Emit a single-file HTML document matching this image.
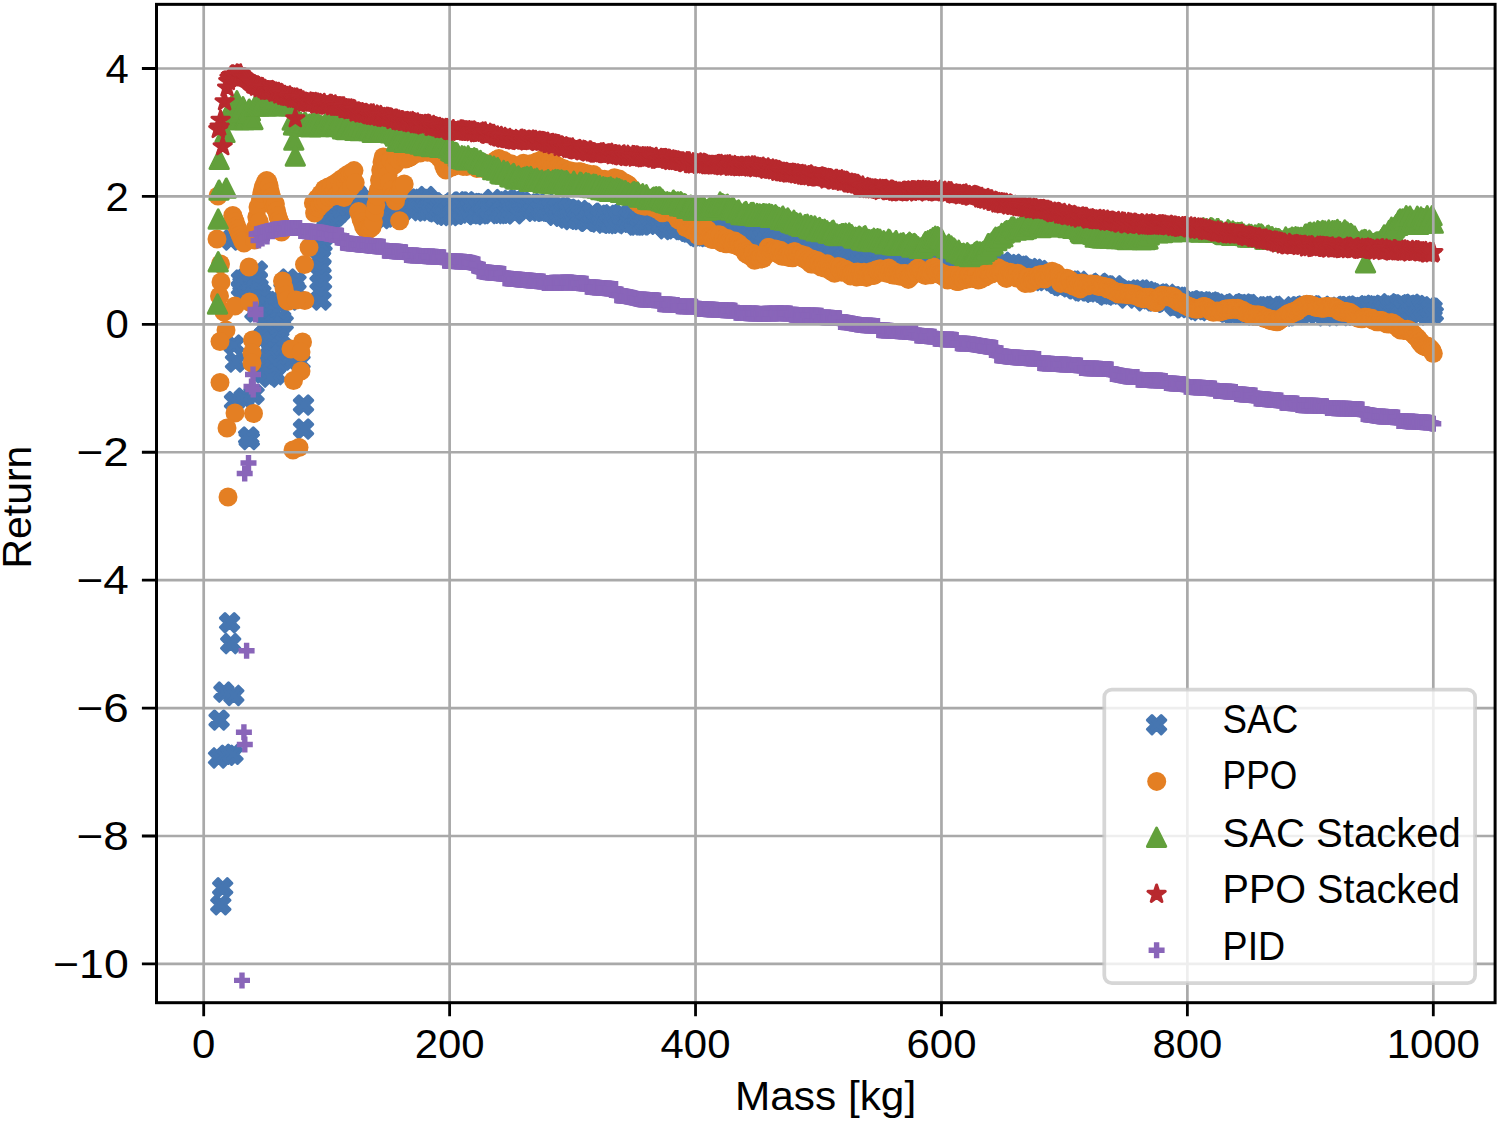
<!DOCTYPE html>
<html><head><meta charset="utf-8"><title>Return vs Mass</title>
<style>html,body{margin:0;padding:0;background:#fff}svg{display:block}text{font-family:"Liberation Sans",sans-serif;fill:#000}</style></head><body>
<svg width="1500" height="1121" viewBox="0 0 1500 1121">
<rect width="1500" height="1121" fill="#fff"/>
<defs>
<marker id="mb" markerUnits="userSpaceOnUse" markerWidth="30" markerHeight="30" refX="0" refY="0" viewBox="-15 -15 30 30" overflow="visible"><path d="M-4.60,-9.20L0.00,-4.60L4.60,-9.20L9.20,-4.60L4.60,0.00L9.20,4.60L4.60,9.20L0.00,4.60L-4.60,9.20L-9.20,4.60L-4.60,0.00L-9.20,-4.60Z" fill="#4676b1" stroke="#4676b1" stroke-width="3" stroke-linejoin="round"/></marker>
<marker id="mo" markerUnits="userSpaceOnUse" markerWidth="30" markerHeight="30" refX="0" refY="0" viewBox="-15 -15 30 30" overflow="visible"><circle r="9.5" fill="#e47f23"/></marker>
<marker id="mg" markerUnits="userSpaceOnUse" markerWidth="30" markerHeight="30" refX="0" refY="0" viewBox="-15 -15 30 30" overflow="visible"><path d="M0,-9.15L9.15,9.15L-9.15,9.15Z" fill="#62a03b" stroke="#62a03b" stroke-width="3" stroke-linejoin="round"/></marker>
<marker id="mr" markerUnits="userSpaceOnUse" markerWidth="30" markerHeight="30" refX="0" refY="0" viewBox="-15 -15 30 30" overflow="visible"><path d="M0.00,-9.10L2.04,-2.81L8.65,-2.81L3.31,1.07L5.35,7.36L0.00,3.48L-5.35,7.36L-3.31,1.07L-8.65,-2.81L-2.04,-2.81Z" fill="#b8292e" stroke="#b8292e" stroke-width="3" stroke-linejoin="round"/></marker>
<marker id="mp" markerUnits="userSpaceOnUse" markerWidth="30" markerHeight="30" refX="0" refY="0" viewBox="-15 -15 30 30" overflow="visible"><path d="M-2.7,-8.0H2.7V-2.7H8.0V2.7H2.7V8.0H-2.7V2.7H-8.0V-2.7H-2.7Z" fill="#8965b9"/></marker>
<clipPath id="ax"><rect x="156.5" y="4.35" width="1338.6" height="998.35"/></clipPath>
</defs>
<g clip-path="url(#ax)" fill="none" stroke="none">
<polyline points="218.6,757.9 219.1,720.0 220.8,904.8 222.7,887.8 223.9,692.1 227.0,755.2 229.6,622.7 230.7,643.6 232.9,754.3 233.8,695.4 234.5,401.5 234.0,345.0 235.5,362.0 244.0,398.0 254.0,394.5 248.7,437.0 249.3,439.5 303.5,405.0 303.5,429.0 231.0,240.0 300.0,362.0 292.0,360.0 241.5,280.0 241.5,288.0 243.0,284.0 245.0,279.0 246.0,290.0 248.0,285.0 250.0,277.0 251.0,292.0 253.0,283.0 255.0,296.0 257.3,271.0 257.1,279.0 258.0,287.0 260.8,293.0 260.5,300.0 255.0,312.0 263.8,300.1 277.1,301.6 264.3,304.6 266.9,306.2 271.8,310.8 271.3,312.4 271.6,313.9 266.2,315.6 280.7,318.7 269.6,322.7 283.2,322.9 273.0,326.2 266.8,328.1 269.5,331.7 265.2,334.6 264.7,334.9 260.8,339.1 278.9,338.9 271.7,342.2 273.5,344.4 282.0,346.4 278.7,348.9 274.6,351.8 271.6,354.4 270.8,355.4 262.8,360.5 265.5,361.0 265.4,364.3 275.8,365.9 266.5,368.1 262.4,369.7 262.7,372.7 275.8,374.6 269.7,377.1 284.0,290.0 286.0,284.0 288.0,279.0 290.0,286.0 292.0,295.0 294.0,288.0 296.0,282.0 295.0,292.0 290.0,300.0 319.5,250.0 320.5,258.0 321.0,266.0 320.0,274.0 321.5,282.0 320.0,291.0 321.0,300.0 322.0,244.0 324.0,236.0 327.0,228.0 330.0,221.0 333.0,214.0 336.0,208.0 339.0,204.0 342.0,202.0 345.0,200.0 336.0,216.0 340.0,212.0 346.3,192.5 347.6,205.1 348.8,193.5 350.0,193.4 351.3,204.0 352.5,194.6 353.7,193.6 354.9,205.3 356.2,193.3 357.4,204.5 358.6,197.1 359.9,202.3 361.1,199.3 362.3,200.7 363.5,211.3 364.8,211.9 366.0,201.2 367.2,211.1 368.5,202.7 369.7,206.3 370.9,203.7 372.2,214.0 373.4,216.3 374.6,217.6 375.8,218.1 377.1,211.6 378.3,207.7 379.5,204.5 380.8,211.0 382.0,218.5 383.2,210.3 384.5,212.5 385.7,216.9 386.9,215.6 388.1,213.2 389.4,210.4 390.6,204.2 391.8,212.1 393.1,206.4 394.3,210.5 395.5,202.4 396.7,213.6 398.0,200.8 399.2,210.5 400.4,211.8 401.7,199.7 402.9,210.7 404.1,206.9 405.4,205.9 406.6,200.0 407.8,200.8 409.0,199.0 411.5,202.2 412.7,205.4 414.0,206.6 415.2,206.3 416.4,201.0 417.7,200.9 418.9,207.4 420.1,210.6 421.3,199.4 422.6,202.3 423.8,200.3 425.0,210.9 426.3,196.6 427.5,209.8 428.7,207.9 429.9,201.5 431.2,207.0 432.4,202.6 433.6,207.0 434.9,204.1 436.1,211.7 437.3,205.2 438.6,210.8 439.8,207.6 441.0,204.8 442.2,214.1 443.5,202.8 444.7,213.8 445.9,215.2 447.2,213.5 448.4,210.3 449.6,210.7 450.8,215.4 452.1,207.9 453.3,213.7 454.5,212.9 455.8,214.1 457.0,207.7 458.2,210.8 459.5,202.3 460.7,202.0 461.9,202.4 463.1,211.8 464.4,206.0 465.6,214.2 466.8,201.7 468.1,203.1 469.3,212.9 470.5,206.6 471.8,203.6 473.0,211.9 474.2,203.6 475.4,214.6 476.7,204.1 477.9,212.8 479.1,207.0 480.4,213.8 481.6,204.1 482.8,213.5 484.0,204.1 485.3,206.2 486.5,209.0 487.7,207.8 489.0,209.6 490.2,209.9 491.4,203.5 492.7,199.6 493.9,210.4 495.1,208.5 496.3,208.0 497.6,206.9 498.8,213.4 500.0,204.0 501.3,213.2 502.5,202.0 503.7,209.9 505.0,213.6 506.2,201.8 507.4,211.1 508.6,203.6 509.9,200.4 511.1,206.0 512.3,210.0 513.6,203.8 514.8,213.8 516.0,199.5 517.2,203.5 518.5,204.6 519.7,205.1 520.9,204.9 522.2,201.9 523.4,203.9 524.6,204.5 525.9,208.8 527.1,205.7 528.3,209.4 529.5,206.4 530.8,205.3 532.0,203.4 533.2,204.1 534.5,211.3 535.7,206.5 536.9,205.0 538.2,204.0 539.4,211.0 540.6,209.3 541.8,209.5 543.1,210.9 544.3,205.3 545.5,210.7 546.8,204.0 548.0,210.6 549.2,207.3 550.4,211.2 551.7,206.8 552.9,208.5 554.1,212.1 555.4,215.2 556.6,209.2 557.8,207.7 559.1,207.5 560.3,213.5 561.5,216.2 562.7,207.2 564.0,210.9 565.2,209.4 566.4,218.0 567.7,209.6 568.9,209.2 570.1,216.9 571.4,219.5 572.6,217.2 573.8,210.4 575.0,213.7 576.3,215.0 577.5,219.2 578.7,217.8 580.0,210.6 581.2,214.9 582.4,218.5 583.6,216.2 584.9,217.6 586.1,221.0 587.3,221.2 588.6,219.9 589.8,217.2 591.0,214.6 592.3,213.2 593.5,213.4 594.7,218.6 595.9,220.1 597.2,221.2 598.4,221.9 599.6,215.5 600.9,216.1 602.1,214.8 603.3,218.6 604.5,223.1 605.8,221.2 607.0,218.0 608.2,215.2 609.5,222.6 610.7,223.2 611.9,221.9 613.2,216.9 614.4,217.9 615.6,220.0 616.8,223.6 618.1,216.5 619.3,218.4 620.5,214.6 621.8,214.0 623.0,216.6 624.2,222.6 625.5,221.2 626.7,219.2 627.9,218.5 629.1,217.0 630.4,222.3 631.6,219.4 632.8,215.0 634.1,220.9 635.3,224.9 636.5,215.1 637.7,225.0 639.0,215.5 640.2,217.7 641.4,224.8 642.7,224.8 643.9,216.5 645.1,222.2 646.4,221.1 647.6,218.9 648.8,223.0 650.0,221.4 651.3,217.4 652.5,220.5 653.7,223.1 655.0,222.4 656.2,221.9 657.4,224.2 658.7,218.1 659.9,217.5 661.1,217.6 662.3,224.2 663.6,222.5 664.8,227.0 666.0,228.7 667.3,219.9 668.5,223.0 669.7,223.7 670.9,225.4 672.2,229.5 673.4,226.5 674.6,223.7 675.9,227.8 677.1,224.5 678.3,227.2 679.6,222.6 680.8,227.9 682.0,227.3 683.2,229.4 684.5,228.8 685.7,229.2 686.9,231.2 688.2,225.2 689.4,232.0 690.6,231.0 691.9,232.0 693.1,229.2 694.3,226.2 695.5,235.4 696.8,234.7 698.0,236.5 699.2,231.4 700.5,236.0 701.7,235.7 702.9,232.2 704.1,235.7 705.4,234.7 706.6,227.0 707.8,227.1 709.1,229.9 710.3,231.1 711.5,232.2 712.8,231.1 714.0,234.2 715.2,233.3 716.4,225.7 717.7,228.1 718.9,233.7 720.1,232.2 721.4,224.2 722.6,230.5 723.8,225.1 725.1,229.2 726.3,234.7 727.5,225.2 728.7,233.4 730.0,230.0 731.2,235.5 732.4,234.5 733.7,226.3 734.9,232.6 736.1,235.2 737.3,229.3 738.6,234.0 739.8,229.5 741.0,229.2 742.3,230.8 743.5,230.6 744.7,237.9 746.0,230.5 747.2,232.7 748.4,233.6 749.6,236.0 750.9,239.2 752.1,235.7 753.3,238.5 754.6,231.0 755.8,236.9 757.0,231.9 758.2,239.6 759.5,236.9 760.7,232.4 761.9,240.5 763.2,237.5 764.4,237.6 765.6,233.8 766.9,243.1 768.1,239.4 769.3,243.6 770.5,235.7 771.8,242.6 773.0,239.9 774.2,242.1 775.5,243.5 776.7,246.1 777.9,247.7 779.2,240.1 780.4,247.9 781.6,240.3 782.8,239.4 784.1,242.7 785.3,242.8 786.5,248.2 787.8,246.2 789.0,244.6 790.2,249.1 791.4,250.9 792.7,248.0 793.9,248.4 795.1,250.9 796.4,245.1 797.6,252.8 798.8,244.3 800.1,243.2 801.3,251.7 802.5,245.1 803.7,247.0 805.0,249.1 806.2,245.1 807.4,248.7 808.7,248.2 809.9,245.6 811.1,251.3 812.4,250.0 813.6,247.1 814.8,254.0 816.0,250.3 817.3,246.4 818.5,255.7 819.7,251.0 821.0,247.9 822.2,250.2 823.4,250.1 824.6,248.1 825.9,251.4 827.1,249.9 828.3,250.6 829.6,255.8 830.8,250.5 832.0,249.3 833.3,251.2 834.5,252.7 835.7,251.6 836.9,256.4 838.2,259.7 839.4,259.4 840.6,255.8 841.9,259.3 843.1,259.5 844.3,258.0 845.6,259.9 846.8,255.6 848.0,259.7 849.2,257.5 850.5,259.9 851.7,260.1 852.9,253.1 854.2,261.4 855.4,253.1 856.6,257.4 857.8,259.3 859.1,262.0 860.3,254.0 861.5,260.7 862.8,257.4 864.0,254.3 865.2,257.6 866.5,261.0 867.7,255.3 868.9,263.5 870.1,255.2 871.4,257.4 872.6,258.5 873.8,255.9 875.1,265.2 876.3,265.8 877.5,265.3 878.8,258.0 880.0,264.9 881.2,259.8 882.4,259.4 883.7,263.8 884.9,257.6 886.1,256.9 887.4,266.9 888.6,260.9 889.8,265.8 891.0,262.0 892.3,258.7 893.5,262.9 894.7,259.8 896.0,259.0 897.2,258.5 898.4,262.7 899.7,261.4 900.9,262.3 902.1,269.1 903.3,267.8 904.6,266.6 905.8,261.9 907.0,267.4 908.3,266.9 909.5,265.2 910.7,262.3 911.9,262.1 913.2,264.5 914.4,263.1 915.6,269.6 916.9,265.3 918.1,267.7 919.3,270.1 920.6,267.3 921.8,262.6 923.0,264.4 924.2,270.9 925.5,261.7 926.7,263.7 927.9,268.0 929.2,270.7 930.4,270.4 931.6,269.6 932.9,269.4 934.1,266.1 935.3,262.9 936.5,269.1 937.8,263.2 939.0,271.1 940.2,264.1 941.5,262.9 942.7,273.3 943.9,264.4 945.1,268.8 946.4,263.3 947.6,273.0 948.8,262.7 950.1,269.8 951.3,271.5 952.5,265.7 953.8,262.6 955.0,262.9 956.2,263.1 957.4,270.4 958.7,268.0 959.9,271.9 961.1,269.1 962.4,268.7 963.6,264.5 964.8,264.7 966.1,272.7 967.3,272.4 968.5,266.9 969.7,270.7 971.0,269.9 972.2,265.2 973.4,264.3 974.7,270.1 975.9,272.4 977.1,272.6 978.3,265.9 979.6,262.8 980.8,265.5 982.0,262.8 983.3,272.5 984.5,265.3 985.7,271.0 987.0,264.6 988.2,272.2 989.4,267.2 990.6,270.8 991.9,268.3 993.1,270.0 994.3,262.7 995.6,262.8 996.8,265.7 998.0,271.1 999.3,271.5 1000.5,269.3 1001.7,268.1 1002.9,262.3 1004.2,271.6 1005.4,268.7 1006.6,268.2 1007.9,270.6 1009.1,264.5 1010.3,268.9 1011.5,269.8 1012.8,270.9 1014.0,264.2 1015.2,271.2 1016.5,273.4 1017.7,270.8 1018.9,266.2 1020.2,274.5 1021.4,266.1 1022.6,267.8 1023.8,274.7 1025.1,272.2 1026.3,269.8 1027.5,275.1 1028.8,273.8 1030.0,268.5 1031.2,270.0 1032.5,276.4 1033.7,276.8 1034.9,269.3 1036.1,274.4 1037.4,276.7 1038.6,272.9 1039.8,270.5 1041.1,274.6 1042.3,280.4 1043.5,278.5 1044.7,273.4 1046.0,280.4 1047.2,278.9 1048.4,275.2 1049.7,275.3 1050.9,274.6 1052.1,277.4 1053.4,277.2 1054.6,276.8 1055.8,283.3 1057.0,282.5 1058.3,280.0 1059.5,285.3 1060.7,282.5 1062.0,285.8 1063.2,284.7 1064.4,283.0 1065.6,284.0 1066.9,285.1 1068.1,285.3 1069.3,286.8 1070.6,281.4 1071.8,282.0 1073.0,281.1 1074.3,288.5 1075.5,288.7 1076.7,284.1 1077.9,283.9 1079.2,281.4 1080.4,290.6 1081.6,287.6 1082.9,290.9 1084.1,287.5 1085.3,286.5 1086.6,289.2 1087.8,290.8 1089.0,290.6 1090.2,285.5 1091.5,287.4 1092.7,292.2 1093.9,287.8 1095.2,291.1 1096.4,288.4 1097.6,291.8 1098.8,283.9 1100.1,283.4 1101.3,284.5 1102.5,288.4 1103.8,287.9 1105.0,294.3 1106.2,294.9 1107.5,286.0 1108.7,293.6 1109.9,290.3 1111.1,294.0 1112.4,289.2 1113.6,293.7 1114.8,285.8 1116.1,290.9 1117.3,289.6 1118.5,289.0 1119.8,289.7 1121.0,291.1 1122.2,292.1 1123.4,292.6 1124.7,295.1 1125.9,296.2 1127.1,297.9 1128.4,294.9 1129.6,290.8 1130.8,294.4 1132.0,293.1 1133.3,291.1 1134.5,292.4 1135.7,291.5 1137.0,294.9 1138.2,290.1 1139.4,295.4 1140.7,294.2 1141.9,290.1 1143.1,293.1 1144.3,300.7 1145.6,296.8 1146.8,291.5 1148.0,297.2 1149.3,298.7 1150.5,292.9 1151.7,295.9 1153.0,294.1 1154.2,297.8 1155.4,301.0 1156.6,295.0 1157.9,294.2 1159.1,294.4 1160.3,299.6 1161.6,294.0 1162.8,299.1 1164.0,302.3 1165.2,302.0 1166.5,301.2 1167.7,294.4 1168.9,299.1 1170.2,297.3 1171.4,300.4 1172.6,296.8 1173.9,296.9 1175.1,305.8 1176.3,305.3 1177.5,297.2 1178.8,305.2 1180.0,297.4 1181.2,300.5 1182.5,307.7 1183.7,307.4 1184.9,302.6 1186.2,305.4 1187.4,302.2 1188.6,307.4 1189.8,302.0 1191.1,301.1 1192.3,300.7 1193.5,306.1 1194.8,305.6 1196.0,309.5 1197.2,301.7 1198.4,308.9 1199.7,310.6 1200.9,308.7 1202.1,302.1 1203.4,302.6 1204.6,302.0 1205.8,304.7 1207.1,309.3 1208.3,302.9 1209.5,306.2 1210.7,302.0 1212.0,308.8 1213.2,302.7 1214.4,310.2 1215.7,308.4 1216.9,304.0 1218.1,309.5 1219.3,305.9 1220.6,307.8 1221.8,308.2 1223.0,305.3 1224.3,306.9 1225.5,310.9 1226.7,311.9 1228.0,311.8 1229.2,308.9 1230.4,312.2 1231.6,304.6 1232.9,313.6 1234.1,303.7 1235.3,312.9 1236.6,311.8 1237.8,307.7 1239.0,312.0 1240.3,313.9 1241.5,305.6 1242.7,310.8 1243.9,304.0 1245.2,311.1 1246.4,304.8 1247.6,311.4 1248.9,304.6 1250.1,308.7 1251.3,313.7 1252.5,307.9 1253.8,315.0 1255.0,309.8 1256.2,306.8 1257.5,314.9 1258.7,306.7 1259.9,311.5 1261.2,315.3 1262.4,315.3 1263.6,311.4 1264.8,307.8 1266.1,311.0 1267.3,308.8 1268.5,309.2 1269.8,309.3 1271.0,308.2 1272.2,306.5 1273.5,314.2 1274.7,306.4 1275.9,312.5 1277.1,310.4 1278.4,313.5 1279.6,312.8 1280.8,311.7 1282.1,314.8 1283.3,312.6 1284.5,316.0 1285.7,312.6 1287.0,315.6 1288.2,315.4 1289.4,313.7 1290.7,309.7 1291.9,311.3 1293.1,306.9 1294.4,313.7 1295.6,312.8 1296.8,314.5 1298.0,306.7 1299.3,307.1 1300.5,312.5 1301.7,313.5 1303.0,306.5 1304.2,306.0 1305.4,309.1 1306.7,309.3 1307.9,306.3 1309.1,306.7 1310.3,307.9 1311.6,305.8 1312.8,307.3 1314.0,306.0 1315.3,309.6 1316.5,313.6 1317.7,312.7 1318.9,312.1 1320.2,310.7 1321.4,307.7 1322.6,306.2 1323.9,307.7 1325.1,315.7 1326.3,314.3 1327.6,311.7 1328.8,312.2 1330.0,313.6 1331.2,314.4 1332.5,308.2 1333.7,314.1 1334.9,312.4 1336.2,308.4 1337.4,308.5 1338.6,307.2 1339.9,311.1 1341.1,315.5 1342.3,313.6 1343.5,306.9 1344.8,306.4 1346.0,308.0 1347.2,306.8 1348.5,306.5 1349.7,312.7 1350.9,308.2 1352.1,310.8 1353.4,308.1 1354.6,315.2 1355.8,310.9 1357.1,306.1 1358.3,312.8 1359.5,307.6 1360.8,309.3 1362.0,307.5 1363.2,309.6 1364.4,307.6 1365.7,307.7 1366.9,305.9 1368.1,314.4 1369.4,306.3 1370.6,307.1 1371.8,308.4 1373.0,305.2 1374.3,306.4 1375.5,308.2 1376.7,310.0 1378.0,309.5 1379.2,307.6 1380.4,310.9 1381.7,311.6 1382.9,306.5 1384.1,306.2 1385.3,310.3 1386.6,308.1 1387.8,312.5 1389.0,303.8 1390.3,309.4 1391.5,307.4 1392.7,306.0 1394.0,312.9 1395.2,306.0 1396.4,312.1 1397.6,312.8 1398.9,314.0 1400.1,304.9 1401.3,305.4 1402.6,304.7 1403.8,307.3 1405.0,313.5 1406.2,310.8 1407.5,305.7 1408.7,305.2 1409.9,312.1 1411.2,310.8 1412.4,304.3 1413.6,310.5 1414.9,306.4 1416.1,307.5 1417.3,305.5 1418.5,315.0 1419.8,309.4 1421.0,311.2 1422.2,306.8 1423.5,308.7 1424.7,311.6 1425.9,312.8 1427.2,314.5 1428.4,307.6 1429.6,307.5 1430.8,309.3 1432.1,308.4 1433.3,313.9" marker-start="url(#mb)" marker-mid="url(#mb)" marker-end="url(#mb)"/>
<polyline points="218.0,196.0 217.0,239.0 220.5,264.0 221.0,282.0 219.5,296.0 224.0,312.0 235.0,306.0 249.5,302.0 249.0,267.0 226.0,330.0 220.0,341.5 252.5,340.0 252.0,353.0 252.0,363.0 220.0,382.5 235.0,413.0 253.5,413.5 227.0,428.0 228.0,497.0 232.8,215.5 234.0,219.0 235.3,222.0 236.5,226.0 237.8,229.0 239.0,232.0 240.2,235.0 241.5,238.0 242.7,241.0 244.0,243.0 254.5,240.0 255.5,228.0 256.8,217.0 258.0,207.0 259.3,222.0 260.5,199.0 261.8,193.0 263.0,188.0 264.2,185.0 265.5,182.0 266.7,180.5 268.0,182.0 269.2,186.0 270.4,192.0 271.7,197.0 272.9,201.0 274.1,207.0 275.4,204.0 276.6,211.0 277.8,216.0 279.0,220.0 280.3,223.0 282.5,281.0 284.0,288.0 286.0,295.0 288.2,301.3 304.8,300.6 304.5,264.5 309.0,247.5 302.5,342.0 291.0,349.0 301.0,352.0 301.0,371.0 293.5,380.5 299.0,447.5 293.0,450.0 281.5,232.0 287.0,300.0 296.0,300.0 313.4,203.0 314.6,213.1 315.9,206.8 317.1,198.5 318.3,207.7 319.5,205.7 320.8,194.0 322.0,204.0 323.2,202.2 324.5,189.0 325.7,200.7 326.9,193.6 328.2,186.9 329.4,197.5 330.6,187.5 331.8,185.5 333.1,196.2 334.3,190.1 335.5,183.2 336.8,195.3 338.0,194.7 339.2,180.6 340.5,196.1 341.7,187.4 342.9,177.9 344.1,197.6 345.4,181.1 346.6,175.3 347.8,192.3 349.1,175.8 350.3,172.9 351.5,186.5 352.7,172.5 354.0,170.6 355.2,182.8 358.6,211.5 359.8,214.0 361.0,219.0 362.3,222.0 363.5,226.0 364.7,228.0 366.0,229.0 367.2,229.0 368.4,228.0 369.7,229.0 370.9,227.0 372.1,227.0 373.4,222.0 374.6,212.0 375.8,205.0 377.0,196.0 378.3,190.0 379.5,180.0 380.7,170.0 382.0,162.0 383.2,157.0 384.4,159.0 385.7,163.0 386.9,168.0 388.1,175.0 389.4,182.0 390.6,160.0 391.8,190.0 393.0,196.0 394.3,165.0 395.5,201.0 396.7,158.0 398.0,194.0 399.6,220.7 399.2,160.0 400.5,188.0 401.7,186.0 402.9,158.0 404.2,184.0 405.4,159.0 406.6,158.5 407.9,158.0 409.1,157.5 410.3,157.0 411.5,156.0 412.8,155.0 414.0,154.0 415.2,153.0 416.5,152.0 417.7,151.0 420.1,153.1 421.3,146.9 422.6,149.8 423.8,147.2 425.0,149.8 426.3,146.7 427.5,152.2 428.7,147.6 429.9,151.0 431.2,151.0 432.4,149.0 433.6,148.8 434.9,154.1 436.1,149.6 437.3,152.7 438.6,154.9 439.8,158.4 441.0,158.8 442.2,159.4 443.5,164.9 444.7,168.2 445.9,170.0 447.2,168.7 448.4,167.3 449.6,164.8 450.8,167.4 452.1,166.7 453.3,163.9 454.5,166.1 455.8,159.9 457.0,163.5 458.2,162.7 459.5,164.0 460.7,164.7 461.9,160.9 463.1,166.4 464.4,163.3 465.6,165.1 466.8,166.4 468.1,163.2 469.3,162.4 470.5,158.5 471.8,162.1 473.0,160.3 474.2,162.3 475.4,163.4 476.7,168.4 477.9,166.9 479.1,168.1 480.4,164.4 481.6,165.1 482.8,168.5 484.0,162.9 485.3,168.3 486.5,164.7 487.7,164.6 489.0,165.5 490.2,164.9 491.4,165.0 492.7,164.2 493.9,165.3 495.1,161.4 496.3,159.9 497.6,161.1 498.8,158.5 500.0,161.2 501.3,162.0 502.5,164.6 503.7,160.5 505.0,163.1 506.2,166.3 507.4,164.1 508.6,168.1 509.9,167.9 511.1,163.8 512.3,166.4 513.6,168.9 514.8,167.2 516.0,168.1 517.2,170.3 518.5,168.3 519.7,167.6 520.9,169.5 522.2,166.4 523.4,163.2 524.6,164.7 525.9,166.6 527.1,168.8 528.3,166.3 529.5,164.0 530.8,168.8 532.0,164.8 533.2,163.6 534.5,165.6 535.7,163.8 536.9,161.7 538.2,165.4 539.4,164.7 540.6,166.1 541.8,159.7 543.1,164.5 544.3,163.6 545.5,160.4 546.8,162.8 548.0,164.7 549.2,163.3 550.4,162.4 551.7,167.6 552.9,163.0 554.1,165.1 555.4,164.8 556.6,168.3 557.8,166.7 559.1,166.8 560.3,171.7 561.5,168.4 562.7,171.6 564.0,168.7 565.2,172.6 566.4,172.9 567.7,173.7 568.9,171.9 570.1,170.7 571.4,174.2 572.6,176.8 573.8,173.3 575.0,171.7 576.3,173.0 577.5,178.1 578.7,171.7 580.0,171.9 581.2,171.9 582.4,176.9 583.6,173.1 584.9,175.1 586.1,175.2 587.3,173.7 588.6,176.3 589.8,175.2 591.0,176.6 592.3,175.8 593.5,174.4 594.7,179.1 595.9,177.7 597.2,178.5 598.4,183.3 599.6,180.4 600.9,179.1 602.1,183.0 603.3,182.5 604.5,179.3 605.8,181.3 607.0,183.0 608.2,180.6 609.5,185.3 610.7,183.9 611.9,181.7 613.2,184.2 614.4,177.8 615.6,178.8 616.8,183.5 618.1,181.0 619.3,179.1 620.5,182.5 621.8,184.8 623.0,185.1 624.2,182.4 625.5,183.3 626.7,186.5 627.9,184.5 629.1,185.8 630.4,190.6 631.6,190.5 632.8,189.7 634.1,196.9 635.3,195.7 636.5,201.6 637.7,201.9 639.0,203.8 640.2,203.7 641.4,205.6 642.7,202.6 643.9,202.4 645.1,206.3 646.4,201.4 647.6,202.5 648.8,205.1 650.0,202.6 651.3,203.3 652.5,207.4 653.7,202.9 655.0,203.7 656.2,208.9 657.4,205.6 658.7,206.7 659.9,210.9 661.1,207.7 662.3,212.8 663.6,211.8 664.8,212.0 666.0,207.6 667.3,207.4 668.5,211.2 669.7,212.4 670.9,209.3 672.2,210.3 673.4,211.8 674.6,212.4 675.9,215.6 677.1,217.6 678.3,219.7 679.6,217.0 680.8,218.9 682.0,219.3 683.2,221.3 684.5,221.7 685.7,227.6 686.9,224.5 688.2,223.4 689.4,227.3 690.6,229.9 691.9,229.4 693.1,229.5 694.3,228.9 695.5,230.6 696.8,231.1 698.0,235.5 699.2,235.9 700.5,233.6 701.7,235.3 702.9,232.7 704.1,231.9 705.4,228.8 706.6,229.2 707.8,230.3 709.1,236.6 710.3,237.4 711.5,239.2 712.8,239.3 714.0,239.5 715.2,236.9 716.4,238.9 717.7,234.8 718.9,238.4 720.1,235.1 721.4,242.4 722.6,242.7 723.8,238.5 725.1,243.1 726.3,243.7 727.5,238.4 728.7,242.0 730.0,241.0 731.2,242.4 732.4,244.4 733.7,243.8 734.9,241.1 736.1,244.6 737.3,245.9 738.6,243.4 739.8,245.2 741.0,247.7 742.3,247.1 743.5,247.8 744.7,251.3 746.0,253.9 747.2,251.3 748.4,253.7 749.6,255.7 750.9,256.1 752.1,256.8 753.3,253.6 754.6,260.3 755.8,255.9 757.0,256.3 758.2,258.7 759.5,258.4 760.7,259.0 761.9,255.5 763.2,258.5 764.4,255.0 765.6,255.2 766.9,251.5 768.1,247.6 769.3,247.5 770.5,251.9 771.8,250.4 773.0,250.5 774.2,249.8 775.5,249.0 776.7,251.2 777.9,250.0 779.2,254.6 780.4,250.2 781.6,256.1 782.8,255.9 784.1,253.4 785.3,256.6 786.5,255.7 787.8,255.2 789.0,257.5 790.2,257.5 791.4,253.0 792.7,257.7 793.9,251.8 795.1,251.7 796.4,255.1 797.6,253.8 798.8,254.4 800.1,254.6 801.3,254.6 802.5,257.7 803.7,258.3 805.0,255.5 806.2,256.6 807.4,260.8 808.7,259.2 809.9,261.5 811.1,264.1 812.4,259.1 813.6,264.1 814.8,263.6 816.0,261.2 817.3,260.5 818.5,263.2 819.7,262.5 821.0,267.0 822.2,266.0 823.4,264.4 824.6,268.0 825.9,266.8 827.1,263.8 828.3,266.0 829.6,267.1 830.8,271.0 832.0,267.5 833.3,269.1 834.5,273.2 835.7,269.4 836.9,271.8 838.2,266.6 839.4,268.5 840.6,267.2 841.9,272.2 843.1,270.5 844.3,269.2 845.6,269.3 846.8,272.4 848.0,270.8 849.2,273.9 850.5,275.9 851.7,273.3 852.9,272.4 854.2,273.7 855.4,272.3 856.6,276.9 857.8,271.9 859.1,276.4 860.3,273.7 861.5,276.4 862.8,276.6 864.0,272.3 865.2,276.3 866.5,277.4 867.7,274.7 868.9,275.1 870.1,272.8 871.4,271.6 872.6,275.3 873.8,275.5 875.1,270.9 876.3,269.7 877.5,270.5 878.8,271.3 880.0,268.7 881.2,272.2 882.4,270.9 883.7,272.0 884.9,270.3 886.1,271.8 887.4,273.6 888.6,267.9 889.8,272.0 891.0,270.1 892.3,274.8 893.5,271.4 894.7,275.2 896.0,272.4 897.2,274.5 898.4,274.5 899.7,276.0 900.9,276.0 902.1,273.7 903.3,276.1 904.6,273.5 905.8,273.7 907.0,278.2 908.3,279.4 909.5,277.9 910.7,275.5 911.9,275.1 913.2,274.7 914.4,272.6 915.6,270.2 916.9,272.3 918.1,268.0 919.3,271.1 920.6,270.4 921.8,271.0 923.0,272.3 924.2,274.5 925.5,275.6 926.7,273.0 927.9,272.2 929.2,274.0 930.4,274.8 931.6,272.1 932.9,267.4 934.1,267.1 935.3,269.8 936.5,272.3 937.8,273.7 939.0,271.4 940.2,273.9 941.5,275.3 942.7,273.7 943.9,273.9 945.1,277.8 946.4,277.7 947.6,280.0 948.8,275.2 950.1,279.5 951.3,275.2 952.5,277.0 953.8,278.5 955.0,275.3 956.2,281.2 957.4,281.6 958.7,281.6 959.9,274.8 961.1,278.8 962.4,278.7 963.6,279.8 964.8,274.9 966.1,274.2 967.3,279.0 968.5,275.5 969.7,274.5 971.0,274.7 972.2,278.3 973.4,277.2 974.7,278.4 975.9,278.8 977.1,273.5 978.3,279.9 979.6,279.4 980.8,279.3 982.0,277.5 983.3,274.3 984.5,272.8 985.7,276.7 987.0,272.8 988.2,273.0 989.4,274.4 990.6,274.1 991.9,273.8 993.1,272.6 994.3,271.1 995.6,272.1 996.8,269.0 998.0,267.8 999.3,272.2 1000.5,272.4 1001.7,272.9 1002.9,270.5 1004.2,270.9 1005.4,277.7 1006.6,278.4 1007.9,274.1 1009.1,276.5 1010.3,272.3 1011.5,274.7 1012.8,276.4 1014.0,273.8 1015.2,276.9 1016.5,277.9 1017.7,273.2 1018.9,277.7 1020.2,276.4 1021.4,275.8 1022.6,277.9 1023.8,279.7 1025.1,283.4 1026.3,283.0 1027.5,277.4 1028.8,277.3 1030.0,283.2 1031.2,279.9 1032.5,279.9 1033.7,277.7 1034.9,280.4 1036.1,277.9 1037.4,277.6 1038.6,274.9 1039.8,278.2 1041.1,274.7 1042.3,274.4 1043.5,277.5 1044.7,279.0 1046.0,275.0 1047.2,274.5 1048.4,272.8 1049.7,275.2 1050.9,275.8 1052.1,271.2 1053.4,274.1 1054.6,274.8 1055.8,272.8 1057.0,276.7 1058.3,276.0 1059.5,276.8 1060.7,283.4 1062.0,278.2 1063.2,280.5 1064.4,282.6 1065.6,281.1 1066.9,278.2 1068.1,283.8 1069.3,279.5 1070.6,280.8 1071.8,284.7 1073.0,285.7 1074.3,286.2 1075.5,283.6 1076.7,286.6 1077.9,287.7 1079.2,283.5 1080.4,288.9 1081.6,283.0 1082.9,286.6 1084.1,283.6 1086.6,284.7 1087.8,285.7 1089.0,284.3 1090.2,284.3 1091.5,284.0 1092.7,284.4 1093.9,284.9 1095.2,284.5 1096.4,284.4 1097.6,285.7 1098.8,286.4 1100.1,285.7 1101.3,286.6 1102.5,286.3 1103.8,286.4 1105.0,287.3 1106.2,287.3 1107.5,288.7 1108.7,287.4 1109.9,289.1 1111.1,289.9 1112.4,290.2 1113.6,291.2 1114.8,291.5 1116.1,292.2 1117.3,292.2 1118.5,294.0 1119.8,292.5 1121.0,292.8 1122.2,294.1 1123.4,293.7 1124.7,294.0 1125.9,293.7 1127.1,293.5 1128.4,294.7 1129.6,293.5 1130.8,293.9 1132.0,294.8 1133.3,294.1 1134.5,295.5 1135.7,294.6 1137.0,295.9 1138.2,296.6 1139.4,297.1 1140.7,298.1 1141.9,297.2 1143.1,298.3 1144.3,298.8 1145.6,297.3 1146.8,298.0 1148.0,297.5 1149.3,297.3 1150.5,298.0 1151.7,299.3 1153.0,300.7 1154.2,302.1 1155.4,302.5 1156.6,302.6 1157.9,300.5 1159.1,298.3 1160.3,296.7 1161.6,295.4 1162.8,295.5 1164.0,295.4 1165.2,296.6 1166.5,296.7 1167.7,296.6 1168.9,296.1 1170.2,296.3 1171.4,296.3 1172.6,298.0 1173.9,297.2 1175.1,298.8 1176.3,300.3 1177.5,300.5 1178.8,302.4 1180.0,302.2 1181.2,302.6 1182.5,302.8 1183.7,303.9 1184.9,305.3 1186.2,305.5 1187.4,305.7 1188.6,307.0 1189.8,306.7 1191.1,307.8 1192.3,307.7 1193.5,308.1 1194.8,308.7 1196.0,309.0 1197.2,308.5 1198.4,309.1 1199.7,308.5 1200.9,307.9 1202.1,307.2 1203.4,306.6 1204.6,306.7 1205.8,307.0 1207.1,308.6 1208.3,308.8 1209.5,309.5 1210.7,311.0 1212.0,311.2 1213.2,312.3 1214.4,311.4 1215.7,311.8 1216.9,310.9 1218.1,311.3 1219.3,312.0 1220.6,311.0 1221.8,311.3 1223.0,310.8 1224.3,309.7 1225.5,309.1 1226.7,310.0 1228.0,308.7 1229.2,309.2 1230.4,308.7 1231.6,309.4 1232.9,308.3 1234.1,308.9 1235.3,309.0 1236.6,309.4 1237.8,308.3 1239.0,309.1 1240.3,309.7 1241.5,310.4 1242.7,310.3 1243.9,311.7 1245.2,312.5 1246.4,313.2 1247.6,312.9 1248.9,313.9 1250.1,314.1 1251.3,314.7 1252.5,314.9 1253.8,316.2 1255.0,314.7 1256.2,316.5 1257.5,314.9 1258.7,315.0 1259.9,315.3 1261.2,315.6 1262.4,317.0 1263.6,317.7 1264.8,318.6 1266.1,318.2 1267.3,318.1 1268.5,319.6 1269.8,320.4 1271.0,319.2 1272.2,320.7 1273.5,319.5 1274.7,321.3 1275.9,321.3 1277.1,321.8 1278.4,321.3 1279.6,319.2 1280.8,319.4 1282.1,318.2 1283.3,317.8 1284.5,316.2 1285.7,315.8 1287.0,315.0 1288.2,313.5 1289.4,313.8 1290.7,314.0 1291.9,312.0 1293.1,313.1 1294.4,311.8 1295.6,310.8 1296.8,311.5 1298.0,309.7 1299.3,308.7 1300.5,307.6 1301.7,307.9 1303.0,305.9 1304.2,305.5 1305.4,305.1 1306.7,304.3 1307.9,305.4 1309.1,304.5 1310.3,304.8 1311.6,305.7 1312.8,305.5 1314.0,305.9 1315.3,307.0 1316.5,307.5 1317.7,307.4 1318.9,307.4 1320.2,307.6 1321.4,308.2 1322.6,307.0 1323.9,308.3 1325.1,306.8 1326.3,306.8 1327.6,306.6 1328.8,307.1 1330.0,306.9 1331.2,307.3 1332.5,307.7 1333.7,306.8 1334.9,308.3 1336.2,308.2 1337.4,309.2 1338.6,309.5 1339.9,311.6 1341.1,311.3 1342.3,312.3 1343.5,311.2 1344.8,312.3 1346.0,311.4 1347.2,311.9 1348.5,312.7 1349.7,312.2 1350.9,313.5 1352.1,314.9 1353.4,314.7 1354.6,316.3 1355.8,316.9 1357.1,317.4 1358.3,318.3 1359.5,318.3 1360.8,318.6 1362.0,318.8 1363.2,318.3 1364.4,317.3 1365.7,317.3 1366.9,317.4 1368.1,317.9 1369.4,318.0 1370.6,318.2 1371.8,318.2 1373.0,320.2 1374.3,319.9 1375.5,320.6 1376.7,321.7 1378.0,320.5 1379.2,321.7 1380.4,320.5 1381.7,320.4 1382.9,321.5 1384.1,322.6 1385.3,322.5 1386.6,323.8 1387.8,323.2 1389.0,324.0 1390.3,322.7 1391.5,323.0 1392.7,323.0 1394.0,324.6 1395.2,325.0 1396.4,326.3 1397.6,326.6 1398.9,328.5 1400.1,329.9 1401.3,328.8 1402.6,329.4 1403.8,330.4 1405.0,330.2 1406.2,330.2 1407.5,329.2 1408.7,330.4 1409.9,330.4 1411.2,332.0 1412.4,333.4 1413.6,334.1 1414.9,335.7 1416.1,336.9 1417.3,337.8 1418.5,339.2 1419.8,342.1 1421.0,342.1 1422.2,345.0 1423.5,345.7 1424.7,346.5 1425.9,346.7 1427.2,345.9 1428.4,346.8 1429.6,348.2 1430.8,349.2 1432.1,350.6 1433.3,353.6" marker-start="url(#mo)" marker-mid="url(#mo)" marker-end="url(#mo)"/>
<polyline points="217.5,304.0 218.2,261.8 218.2,219.0 219.0,190.1 226.3,188.1 219.2,159.4 225.0,132.4 293.8,140.0 295.3,156.0 301.0,100.0 1365.5,262.8 229.5,111.0 230.8,107.8 232.0,105.2 233.2,119.7 234.4,108.9 235.7,105.7 236.9,100.8 238.1,118.9 239.4,119.6 240.6,119.0 241.8,112.1 243.0,106.8 244.3,119.6 245.5,118.8 246.7,119.2 248.0,112.5 249.2,109.1 250.4,110.8 251.7,118.8 252.9,119.5 255.3,105.5 256.6,105.7 257.8,104.8 259.0,105.8 260.3,105.2 261.5,105.8 262.7,105.4 264.0,105.4 265.2,105.7 266.4,105.5 267.6,105.5 268.9,104.9 270.1,105.4 271.3,105.1 272.6,104.8 273.8,104.9 275.0,105.3 276.2,105.0 277.5,105.6 278.7,104.8 279.9,104.7 281.2,105.9 282.4,105.1 283.6,105.3 284.9,105.0 286.1,105.0 287.3,105.2 288.5,105.6 289.8,104.7 291.0,105.7 292.2,120.1 293.5,124.8 294.7,124.6 295.9,124.5 297.1,124.4 298.4,124.6 299.6,125.3 300.8,122.3 302.1,126.4 303.3,125.8 304.5,122.5 305.8,122.7 307.0,126.2 308.2,125.9 309.4,124.1 310.7,126.9 311.9,123.6 313.1,124.7 314.4,123.1 315.6,125.9 316.8,123.0 318.1,123.5 319.3,126.6 320.5,125.2 321.7,126.1 323.0,126.4 324.2,125.8 325.4,123.7 326.7,126.3 327.9,123.3 329.1,124.1 330.3,125.1 331.6,123.3 332.8,123.3 334.0,126.2 335.3,126.7 336.5,125.0 337.7,125.2 339.0,124.5 340.2,126.3 341.4,126.8 342.6,128.8 343.9,124.3 345.1,129.0 346.3,129.7 347.6,126.5 348.8,128.6 350.0,129.3 351.3,128.6 352.5,126.9 353.7,128.8 354.9,130.4 356.2,126.5 357.4,128.5 358.6,126.2 359.9,130.6 361.1,130.4 362.3,126.7 363.5,130.4 364.8,130.2 366.0,127.4 367.2,129.6 368.5,130.5 369.7,128.8 370.9,129.8 372.2,132.3 373.4,130.7 374.6,130.1 375.8,127.9 377.1,128.3 378.3,132.2 379.5,131.8 380.8,132.4 382.0,131.1 383.2,131.2 384.5,131.1 385.7,132.3 386.9,130.3 388.1,131.2 389.4,131.2 390.6,132.9 391.8,132.0 393.1,132.4 394.3,134.2 395.5,136.0 396.7,141.0 398.0,140.7 399.2,141.0 400.4,139.6 401.7,138.0 402.9,140.1 404.1,142.3 405.4,140.6 406.6,141.5 407.8,140.3 409.0,139.3 410.3,142.0 411.5,141.4 412.7,140.8 414.0,140.6 415.2,143.0 416.4,141.2 417.7,142.7 418.9,141.3 420.1,144.0 421.3,142.2 422.6,142.9 423.8,145.5 425.0,144.5 426.3,144.8 427.5,142.8 428.7,145.5 429.9,143.3 431.2,146.5 432.4,146.2 433.6,145.1 434.9,146.1 436.1,144.7 437.3,145.8 438.6,142.8 439.8,147.4 441.0,146.5 442.2,143.2 443.5,143.9 444.7,145.7 445.9,146.8 447.2,143.7 448.4,148.1 449.6,145.2 450.8,150.5 452.1,151.1 453.3,151.7 454.5,153.0 455.8,152.5 457.0,152.9 458.2,156.1 459.5,157.2 460.7,158.3 461.9,155.8 463.1,159.2 464.4,156.3 465.6,159.8 466.8,159.7 468.1,155.7 469.3,159.4 470.5,158.6 471.8,158.6 473.0,159.3 474.2,157.8 475.4,158.6 476.7,158.8 477.9,162.2 479.1,163.3 480.4,160.4 481.6,164.4 482.8,162.7 484.0,163.2 485.3,164.0 486.5,166.4 487.7,165.3 489.0,165.6 490.2,165.3 491.4,166.9 492.7,169.7 493.9,166.2 495.1,169.0 496.3,170.1 497.6,167.6 498.8,169.4 500.0,173.0 501.3,173.9 502.5,173.6 503.7,170.5 505.0,174.0 506.2,172.8 507.4,171.8 508.6,173.8 509.9,176.6 511.1,176.8 512.3,174.7 513.6,173.4 514.8,178.2 516.0,179.1 517.2,177.1 518.5,176.0 519.7,178.1 520.9,179.1 522.2,178.1 523.4,177.6 524.6,177.2 525.9,177.5 527.1,176.4 528.3,177.6 529.5,181.3 530.8,176.5 532.0,180.4 533.2,180.8 534.5,179.0 535.7,180.1 536.9,178.2 538.2,180.7 539.4,181.0 540.6,181.3 541.8,180.1 543.1,182.8 544.3,182.3 545.5,180.9 546.8,181.6 548.0,179.6 549.2,183.2 550.4,181.8 551.7,183.2 552.9,180.2 554.1,183.9 555.4,179.5 556.6,181.8 557.8,179.8 559.1,180.3 560.3,183.4 561.5,179.9 562.7,181.7 564.0,180.9 565.2,184.5 566.4,180.6 567.7,182.1 568.9,185.0 570.1,184.2 571.4,184.5 572.6,186.1 573.8,181.2 575.0,184.7 576.3,185.3 577.5,185.5 578.7,185.5 580.0,182.3 581.2,182.5 582.4,186.2 583.6,185.5 584.9,183.9 586.1,182.7 587.3,185.6 588.6,183.4 589.8,187.0 591.0,185.0 592.3,187.6 593.5,184.1 594.7,186.3 595.9,184.4 597.2,188.1 598.4,187.1 599.6,185.6 600.9,189.6 602.1,188.4 603.3,186.8 604.5,189.8 605.8,187.5 607.0,190.7 608.2,187.6 609.5,191.4 610.7,186.9 611.9,190.6 613.2,188.5 614.4,189.5 615.6,190.8 616.8,188.0 618.1,189.2 619.3,188.8 620.5,192.4 621.8,189.9 623.0,191.6 624.2,191.0 625.5,190.7 626.7,194.6 627.9,192.6 629.1,193.6 630.4,194.1 631.6,195.0 632.8,192.3 634.1,191.6 635.3,193.9 636.5,192.6 637.7,192.1 639.0,197.0 640.2,195.7 641.4,194.9 642.7,193.7 643.9,197.2 645.1,196.3 646.4,194.7 647.6,199.2 648.8,199.3 650.0,199.5 651.3,199.2 652.5,198.0 653.7,197.1 655.0,199.2 656.2,196.8 657.4,199.5 658.7,196.9 659.9,196.9 661.1,200.9 662.3,199.2 663.6,201.3 664.8,202.0 666.0,202.6 667.3,201.7 668.5,203.2 669.7,202.5 670.9,204.2 672.2,204.3 673.4,200.1 674.6,201.6 675.9,202.5 677.1,202.1 678.3,201.9 679.6,205.8 680.8,201.8 682.0,202.9 683.2,206.3 684.5,203.8 685.7,204.3 686.9,208.4 688.2,207.7 689.4,206.4 690.6,205.1 691.9,206.1 693.1,210.2 694.3,209.5 695.5,206.1 696.8,209.6 698.0,207.8 699.2,209.5 700.5,207.3 701.7,206.4 702.9,205.8 704.1,207.2 705.4,210.1 706.6,210.2 707.8,209.1 709.1,209.4 710.3,206.5 711.5,207.3 712.8,209.6 714.0,209.3 715.2,205.7 716.4,206.7 717.7,206.7 718.9,206.3 720.1,202.0 721.4,204.5 722.6,203.7 723.8,204.7 725.1,205.3 726.3,205.0 727.5,204.3 728.7,208.7 730.0,208.8 731.2,210.1 732.4,207.0 733.7,208.0 734.9,210.4 736.1,212.7 737.3,210.7 738.6,209.9 739.8,212.4 741.0,214.5 742.3,214.2 743.5,214.5 744.7,212.1 746.0,211.5 747.2,214.9 748.4,214.6 749.6,215.1 750.9,212.8 752.1,212.5 753.3,212.4 754.6,215.8 755.8,216.2 757.0,213.5 758.2,216.3 759.5,213.9 760.7,214.4 761.9,215.2 763.2,213.6 764.4,214.0 765.6,214.1 766.9,214.2 768.1,215.7 769.3,213.7 770.5,217.4 771.8,214.4 773.0,216.0 774.2,217.2 775.5,214.7 776.7,216.3 777.9,217.3 779.2,217.4 780.4,219.4 781.6,219.2 782.8,216.1 784.1,220.2 785.3,219.2 786.5,220.2 787.8,217.9 789.0,219.9 790.2,221.5 791.4,222.4 792.7,222.8 793.9,220.2 795.1,223.8 796.4,222.8 797.6,223.7 798.8,225.1 800.1,223.1 801.3,226.2 802.5,226.4 803.7,226.4 805.0,224.6 806.2,225.7 807.4,224.3 808.7,227.7 809.9,228.8 811.1,225.4 812.4,228.8 813.6,229.0 814.8,225.9 816.0,230.9 817.3,229.0 818.5,228.3 819.7,227.5 821.0,231.6 822.2,229.6 823.4,230.7 824.6,229.3 825.9,231.7 827.1,230.8 828.3,233.2 829.6,232.7 830.8,233.2 832.0,231.0 833.3,230.2 834.5,234.7 835.7,235.2 836.9,233.9 838.2,235.6 839.4,234.7 840.6,234.4 841.9,233.7 843.1,233.6 844.3,234.5 845.6,233.3 846.8,234.6 848.0,235.3 849.2,233.0 850.5,235.2 851.7,234.8 852.9,236.9 854.2,238.0 855.4,237.2 856.6,237.7 857.8,237.7 859.1,236.1 860.3,236.9 861.5,239.5 862.8,240.2 864.0,236.4 865.2,235.7 866.5,240.9 867.7,240.5 868.9,239.4 870.1,240.7 871.4,239.7 872.6,241.5 873.8,238.2 875.1,239.5 876.3,240.8 877.5,238.6 878.8,241.4 880.0,239.3 881.2,241.8 882.4,242.4 883.7,240.7 884.9,243.8 886.1,242.1 887.4,242.9 888.6,239.3 889.8,240.0 891.0,243.3 892.3,244.6 893.5,243.2 894.7,244.9 896.0,240.6 897.2,245.1 898.4,245.2 899.7,244.1 900.9,243.3 902.1,244.9 903.3,242.7 904.6,245.1 905.8,245.4 907.0,244.8 908.3,243.5 909.5,242.3 910.7,243.5 911.9,247.0 913.2,244.0 914.4,243.4 915.6,244.5 916.9,246.1 918.1,246.7 919.3,248.4 920.6,248.0 921.8,248.0 923.0,246.8 924.2,243.9 925.5,241.6 926.7,245.2 927.9,240.7 929.2,242.1 930.4,239.5 931.6,241.6 932.9,237.7 934.1,238.0 935.3,236.2 936.5,238.8 937.8,236.8 939.0,238.0 940.2,238.0 941.5,238.9 942.7,244.1 943.9,245.3 945.1,245.7 946.4,247.6 947.6,245.8 948.8,244.3 950.1,247.1 951.3,246.0 952.5,247.8 953.8,248.1 955.0,249.2 956.2,251.6 957.4,251.6 958.7,250.2 959.9,252.9 961.1,253.7 962.4,253.8 963.6,253.2 964.8,255.6 966.1,254.1 967.3,252.7 968.5,254.1 969.7,256.7 971.0,255.0 972.2,254.9 973.4,254.3 974.7,252.8 975.9,251.9 977.1,251.3 978.3,254.1 979.6,251.9 980.8,252.2 982.0,254.2 983.3,251.4 984.5,251.1 985.7,249.6 987.0,249.4 988.2,243.6 989.4,244.0 990.6,245.8 991.9,242.3 993.1,243.8 994.3,238.9 995.6,237.3 996.8,240.6 998.0,237.1 999.3,236.6 1000.5,238.0 1001.7,233.5 1002.9,236.7 1004.2,233.0 1005.4,231.4 1006.6,230.6 1007.9,231.4 1009.1,230.4 1010.3,231.9 1011.5,227.3 1012.8,227.0 1014.0,227.3 1015.2,229.4 1016.5,230.0 1017.7,228.2 1018.9,228.6 1020.2,228.5 1021.4,224.9 1022.6,225.8 1023.8,229.5 1025.1,225.7 1026.3,228.7 1027.5,226.0 1028.8,224.3 1030.0,222.9 1031.2,224.0 1032.5,224.5 1033.7,225.0 1034.9,225.0 1036.1,225.5 1037.4,225.1 1038.6,222.8 1039.8,223.9 1041.1,227.5 1042.3,222.6 1043.5,226.2 1044.7,224.8 1046.0,226.0 1047.2,224.0 1048.4,224.1 1049.7,224.9 1050.9,226.9 1052.1,223.8 1053.4,222.5 1054.6,222.2 1055.8,226.5 1057.0,223.5 1058.3,222.5 1059.5,224.9 1060.7,226.3 1062.0,225.1 1063.2,222.9 1064.4,224.4 1065.6,223.8 1066.9,222.6 1068.1,227.7 1069.3,225.2 1070.6,223.6 1071.8,227.7 1073.0,228.3 1074.3,227.6 1075.5,225.1 1076.7,225.6 1077.9,228.2 1079.2,229.4 1080.4,231.8 1081.6,233.2 1082.9,233.5 1084.1,231.0 1085.3,232.8 1086.6,230.8 1087.8,233.4 1089.0,231.5 1090.2,232.2 1091.5,232.8 1092.7,234.2 1093.9,234.7 1095.2,237.2 1096.4,234.3 1097.6,234.5 1098.8,237.4 1100.1,237.5 1101.3,237.7 1102.5,237.8 1103.8,237.5 1105.0,236.9 1106.2,237.9 1107.5,234.5 1108.7,235.2 1109.9,238.0 1111.1,235.2 1112.4,236.9 1113.6,235.6 1114.8,236.5 1116.1,238.6 1117.3,237.7 1118.5,236.6 1119.8,235.7 1121.0,238.5 1122.2,237.8 1123.4,236.7 1124.7,238.9 1125.9,238.0 1127.1,239.5 1128.4,237.9 1129.6,239.2 1130.8,237.4 1132.0,238.2 1133.3,238.9 1134.5,235.0 1135.7,237.1 1137.0,237.8 1138.2,234.9 1139.4,238.8 1140.7,238.4 1141.9,239.6 1143.1,236.7 1144.3,237.2 1145.6,239.5 1146.8,236.9 1148.0,239.1 1149.3,234.8 1150.5,232.3 1151.7,229.9 1153.0,229.1 1154.2,230.2 1155.4,228.7 1156.6,232.2 1157.9,232.9 1159.1,228.3 1160.3,228.0 1161.6,227.7 1162.8,232.5 1164.0,228.0 1165.2,231.1 1166.5,229.1 1167.7,228.5 1168.9,228.7 1170.2,231.0 1171.4,227.4 1172.6,231.8 1173.9,230.2 1175.1,228.5 1176.3,228.3 1177.5,230.6 1178.8,230.4 1180.0,228.7 1181.2,228.8 1182.5,229.4 1183.7,231.7 1184.9,229.7 1186.2,231.2 1187.4,230.2 1188.6,229.7 1189.8,229.4 1191.1,230.4 1192.3,229.5 1193.5,230.7 1194.8,227.9 1196.0,228.7 1197.2,231.6 1198.4,229.1 1199.7,231.5 1200.9,232.0 1202.1,230.2 1203.4,227.7 1204.6,231.2 1205.8,230.7 1207.1,228.8 1208.3,231.8 1209.5,229.9 1210.7,227.8 1212.0,228.0 1213.2,229.0 1214.4,231.2 1215.7,232.4 1216.9,228.8 1218.1,228.6 1219.3,231.9 1220.6,230.9 1221.8,231.3 1223.0,233.4 1224.3,234.1 1225.5,234.5 1226.7,233.7 1228.0,229.8 1229.2,230.7 1230.4,233.2 1231.6,235.3 1232.9,230.9 1234.1,233.3 1235.3,232.8 1236.6,233.1 1237.8,232.5 1239.0,232.7 1240.3,232.7 1241.5,232.1 1242.7,234.6 1243.9,234.1 1245.2,235.6 1246.4,235.4 1247.6,237.1 1248.9,234.1 1250.1,237.0 1251.3,234.5 1252.5,236.1 1253.8,237.0 1255.0,235.0 1256.2,235.3 1257.5,236.4 1258.7,233.8 1259.9,236.2 1261.2,234.0 1262.4,234.9 1263.6,237.1 1264.8,239.0 1266.1,239.3 1267.3,235.6 1268.5,235.2 1269.8,237.3 1271.0,237.0 1272.2,236.8 1273.5,239.0 1274.7,238.9 1275.9,238.2 1277.1,238.7 1278.4,238.6 1279.6,239.3 1280.8,240.7 1282.1,241.0 1283.3,241.3 1284.5,240.8 1285.7,237.0 1287.0,239.0 1288.2,240.8 1289.4,238.5 1290.7,240.1 1291.9,237.1 1293.1,237.7 1294.4,238.5 1295.6,236.7 1296.8,238.4 1298.0,237.2 1299.3,240.3 1300.5,237.4 1301.7,237.5 1303.0,239.6 1304.2,237.6 1305.4,234.1 1306.7,234.2 1307.9,235.5 1309.1,232.6 1310.3,232.3 1311.6,234.1 1312.8,233.4 1314.0,232.1 1315.3,233.5 1316.5,233.8 1317.7,230.7 1318.9,231.8 1320.2,231.9 1321.4,234.8 1322.6,230.4 1323.9,231.8 1325.1,231.0 1326.3,233.5 1327.6,234.0 1328.8,230.0 1330.0,234.1 1331.2,233.1 1332.5,230.6 1333.7,234.1 1334.9,230.8 1336.2,233.3 1337.4,229.5 1338.6,231.4 1339.9,231.5 1341.1,233.7 1342.3,233.6 1343.5,232.3 1344.8,229.9 1346.0,232.0 1347.2,231.9 1348.5,235.3 1349.7,233.9 1350.9,233.5 1352.1,234.7 1353.4,238.2 1354.6,236.1 1355.8,241.2 1357.1,241.8 1358.3,241.7 1359.5,243.1 1360.8,241.4 1362.0,240.1 1363.2,241.4 1364.4,239.5 1365.7,239.7 1366.9,241.5 1368.1,243.5 1369.4,240.2 1370.6,241.7 1371.8,244.2 1373.0,243.4 1374.3,243.7 1375.5,242.5 1376.7,242.0 1378.0,242.0 1379.2,242.0 1380.4,240.9 1381.7,239.1 1382.9,237.2 1384.1,235.0 1385.3,235.3 1386.6,236.1 1387.8,233.7 1389.0,230.5 1390.3,232.6 1391.5,227.3 1392.7,230.6 1394.0,228.0 1395.2,226.3 1396.4,224.4 1397.6,225.4 1398.9,220.1 1400.1,219.0 1401.3,220.4 1402.6,218.9 1403.8,219.4 1405.0,220.2 1406.2,215.7 1407.5,224.3 1408.7,221.4 1409.9,216.1 1411.2,222.0 1412.4,220.1 1413.6,221.5 1414.9,222.0 1416.1,224.3 1417.3,216.3 1418.5,224.4 1419.8,219.6 1421.0,217.0 1422.2,218.6 1423.5,218.6 1424.7,223.4 1425.9,220.0 1427.2,215.8 1428.4,221.8 1429.6,219.8 1430.8,222.7 1432.1,215.6 1433.3,223.2" marker-start="url(#mg)" marker-mid="url(#mg)" marker-end="url(#mg)"/>
<polyline points="218.3,129.3 219.6,126.8 220.6,120.0 222.7,146.5 224.6,101.6 227.1,87.8 228.3,81.3 229.5,78.0 230.8,76.0 232.0,75.0 295.3,118.5 233.2,74.9 234.4,75.7 235.7,75.4 236.9,74.0 238.1,74.2 239.4,75.8 240.6,73.9 241.8,76.9 243.0,77.6 244.3,77.6 245.5,78.0 246.7,78.7 248.0,79.5 249.2,80.8 250.4,81.7 251.7,82.7 252.9,84.6 254.1,84.9 255.3,85.3 256.6,87.0 257.8,85.8 259.0,86.5 260.3,88.4 261.5,87.3 262.7,87.6 264.0,89.2 265.2,89.4 266.4,91.0 267.6,90.6 268.9,90.7 270.1,91.0 271.3,90.7 272.6,90.5 273.8,91.3 275.0,93.0 276.2,92.0 277.5,92.8 278.7,92.3 279.9,94.8 281.2,93.4 282.4,94.0 283.6,96.0 284.9,95.4 286.1,96.6 287.3,96.5 288.5,97.1 289.8,95.8 291.0,97.3 292.2,97.6 293.5,99.0 294.7,98.0 295.9,99.0 297.1,98.0 298.4,99.3 299.6,99.5 300.8,99.4 302.1,101.5 303.3,100.8 304.5,102.7 305.8,102.1 307.0,102.6 308.2,103.0 309.4,103.2 310.7,102.0 311.9,102.9 313.1,102.5 314.4,103.1 315.6,102.4 316.8,104.8 318.1,103.0 319.3,104.3 320.5,103.5 321.7,105.1 323.0,104.7 324.2,103.4 325.4,105.4 326.7,105.8 327.9,105.9 329.1,105.1 330.3,104.2 331.6,104.4 332.8,106.5 334.0,105.6 335.3,104.8 336.5,107.0 337.7,106.7 339.0,106.9 340.2,106.7 341.4,107.1 342.6,107.0 343.9,106.8 345.1,109.4 346.3,108.6 347.6,109.2 348.8,108.9 350.0,110.4 351.3,108.9 352.5,110.1 353.7,109.5 354.9,110.1 356.2,112.7 357.4,112.2 358.6,111.9 359.9,112.5 361.1,113.7 362.3,112.6 363.5,113.5 364.8,114.0 366.0,113.3 367.2,114.0 368.5,114.9 369.7,115.5 370.9,113.8 372.2,116.1 373.4,113.9 374.6,116.1 375.8,116.5 377.1,115.0 378.3,116.0 379.5,117.3 380.8,115.5 382.0,117.3 383.2,118.0 384.5,117.5 385.7,118.3 386.9,117.2 388.1,117.4 389.4,118.0 390.6,117.8 391.8,118.4 393.1,120.2 394.3,119.5 395.5,119.1 396.7,119.1 398.0,121.1 399.2,120.0 400.4,121.6 401.7,120.6 402.9,120.9 404.1,122.1 405.4,121.9 406.6,121.7 407.8,121.5 409.0,122.9 410.3,121.9 411.5,123.5 412.7,121.5 414.0,122.6 415.2,123.1 416.4,124.4 417.7,122.8 418.9,124.5 420.1,124.4 421.3,124.7 422.6,124.7 423.8,125.8 425.0,124.3 426.3,124.7 427.5,124.4 428.7,124.2 429.9,124.9 431.2,126.9 432.4,126.9 433.6,125.3 434.9,126.7 436.1,126.7 437.3,127.4 438.6,127.8 439.8,127.3 441.0,129.3 442.2,128.3 443.5,129.1 444.7,129.4 445.9,128.5 447.2,128.5 448.4,129.8 449.6,131.0 450.8,131.2 452.1,131.1 453.3,129.6 454.5,131.8 455.8,131.6 457.0,131.9 458.2,131.0 459.5,132.1 460.7,130.0 461.9,130.0 463.1,130.1 464.4,130.8 465.6,130.9 466.8,130.8 468.1,131.9 469.3,130.6 470.5,132.1 471.8,131.1 473.0,132.5 474.2,130.9 475.4,131.8 476.7,133.5 477.9,132.6 479.1,133.4 480.4,133.1 481.6,133.0 482.8,132.0 484.0,133.1 485.3,131.9 486.5,134.2 487.7,134.9 489.0,135.0 490.2,133.2 491.4,134.3 492.7,134.5 493.9,134.3 495.1,136.0 496.3,136.7 497.6,135.8 498.8,137.5 500.0,137.7 501.3,136.3 502.5,138.2 503.7,138.9 505.0,137.4 506.2,138.7 507.4,139.2 508.6,139.4 509.9,138.4 511.1,140.0 512.3,140.0 513.6,140.6 514.8,140.6 516.0,139.5 517.2,140.6 518.5,141.0 519.7,141.2 520.9,139.3 522.2,139.1 523.4,140.8 524.6,139.7 525.9,140.7 527.1,141.8 528.3,140.4 529.5,140.2 530.8,140.8 532.0,141.4 533.2,140.0 534.5,140.8 535.7,140.3 536.9,141.7 538.2,142.2 539.4,141.1 540.6,141.3 541.8,142.0 543.1,141.5 544.3,141.8 545.5,142.3 546.8,142.9 548.0,142.2 549.2,144.3 550.4,144.1 551.7,143.6 552.9,143.3 554.1,145.4 555.4,144.0 556.6,144.3 557.8,144.6 559.1,144.7 560.3,147.2 561.5,145.8 562.7,146.2 564.0,147.8 565.2,147.5 566.4,146.7 567.7,147.6 568.9,149.1 570.1,148.0 571.4,149.2 572.6,147.9 573.8,149.8 575.0,150.2 576.3,150.6 577.5,150.5 578.7,150.0 580.0,149.5 581.2,150.8 582.4,151.6 583.6,150.2 584.9,150.6 586.1,151.4 587.3,152.1 588.6,152.7 589.8,150.8 591.0,151.1 592.3,152.8 593.5,152.6 594.7,152.9 595.9,153.8 597.2,153.8 598.4,153.7 599.6,153.7 600.9,152.8 602.1,153.6 603.3,152.6 604.5,154.2 605.8,154.4 607.0,154.4 608.2,153.8 609.5,153.8 610.7,154.1 611.9,153.2 613.2,155.5 614.4,154.8 615.6,154.6 616.8,155.1 618.1,155.7 619.3,155.0 620.5,156.3 621.8,156.6 623.0,155.4 624.2,154.8 625.5,156.6 626.7,157.3 627.9,155.2 629.1,156.8 630.4,157.2 631.6,157.5 632.8,155.5 634.1,155.6 635.3,158.0 636.5,155.8 637.7,156.1 639.0,157.3 640.2,157.0 641.4,157.9 642.7,156.6 643.9,158.6 645.1,156.9 646.4,158.4 647.6,156.7 648.8,157.9 650.0,156.8 651.3,157.7 652.5,157.8 653.7,158.9 655.0,158.3 656.2,157.4 657.4,160.0 658.7,159.8 659.9,160.0 661.1,158.4 662.3,158.9 663.6,158.7 664.8,158.6 666.0,158.5 667.3,159.9 668.5,159.1 669.7,159.4 670.9,161.3 672.2,160.5 673.4,159.9 674.6,161.3 675.9,160.5 677.1,161.3 678.3,160.8 679.6,161.6 680.8,162.1 682.0,162.0 683.2,161.8 684.5,163.0 685.7,163.4 686.9,161.7 688.2,161.8 689.4,161.9 690.6,164.3 691.9,164.4 693.1,162.7 694.3,164.8 695.5,163.0 696.8,163.9 698.0,163.9 699.2,165.1 700.5,162.9 701.7,163.7 702.9,164.5 704.1,163.2 705.4,163.7 706.6,164.3 707.8,165.5 709.1,165.2 710.3,165.5 711.5,165.4 712.8,165.3 714.0,165.8 715.2,165.4 716.4,165.6 717.7,164.6 718.9,164.3 720.1,165.9 721.4,164.4 722.6,166.5 723.8,165.7 725.1,165.1 726.3,166.7 727.5,164.8 728.7,165.8 730.0,164.7 731.2,167.1 732.4,166.1 733.7,166.8 734.9,165.5 736.1,166.9 737.3,166.7 738.6,166.7 739.8,167.5 741.0,166.3 742.3,166.3 743.5,167.1 744.7,167.5 746.0,166.3 747.2,167.2 748.4,166.1 749.6,167.0 750.9,167.7 752.1,165.9 753.3,167.7 754.6,165.9 755.8,168.5 757.0,167.2 758.2,167.2 759.5,168.0 760.7,167.7 761.9,168.5 763.2,167.1 764.4,168.5 765.6,168.8 766.9,170.0 768.1,167.9 769.3,169.2 770.5,169.9 771.8,170.0 773.0,169.0 774.2,170.6 775.5,169.9 776.7,170.0 777.9,172.1 779.2,170.5 780.4,171.4 781.6,172.4 782.8,172.5 784.1,172.2 785.3,173.1 786.5,172.4 787.8,173.0 789.0,173.7 790.2,173.5 791.4,173.6 792.7,173.1 793.9,173.7 795.1,173.5 796.4,174.6 797.6,173.8 798.8,174.2 800.1,175.1 801.3,174.7 802.5,174.4 803.7,175.9 805.0,174.9 806.2,176.3 807.4,176.3 808.7,175.6 809.9,176.5 811.1,174.9 812.4,176.0 813.6,177.4 814.8,176.9 816.0,177.0 817.3,177.5 818.5,177.7 819.7,177.6 821.0,177.4 822.2,176.9 823.4,177.4 824.6,177.6 825.9,178.1 827.1,179.8 828.3,178.3 829.6,178.7 830.8,178.7 832.0,179.4 833.3,180.6 834.5,180.6 835.7,179.4 836.9,179.3 838.2,181.1 839.4,180.3 840.6,181.0 841.9,179.7 843.1,182.1 844.3,181.0 845.6,181.7 846.8,181.2 848.0,182.1 849.2,183.5 850.5,183.8 851.7,183.1 852.9,184.2 854.2,183.7 855.4,183.8 856.6,184.8 857.8,184.4 859.1,185.2 860.3,186.7 861.5,187.4 862.8,186.0 864.0,188.3 865.2,189.0 866.5,188.4 867.7,187.5 868.9,189.3 870.1,188.2 871.4,189.4 872.6,188.8 873.8,189.6 875.1,188.8 876.3,189.4 877.5,189.7 878.8,190.1 880.0,189.1 881.2,191.2 882.4,189.5 883.7,189.7 884.9,189.7 886.1,189.3 887.4,190.4 888.6,191.4 889.8,191.4 891.0,190.1 892.3,190.1 893.5,190.7 894.7,192.0 896.0,191.4 897.2,192.6 898.4,192.1 899.7,192.1 900.9,192.5 902.1,192.4 903.3,191.4 904.6,191.1 905.8,191.6 907.0,191.7 908.3,190.8 909.5,191.6 910.7,192.1 911.9,190.7 913.2,190.7 914.4,190.8 915.6,191.1 916.9,192.8 918.1,190.4 919.3,190.8 920.6,190.7 921.8,191.5 923.0,190.3 924.2,191.5 925.5,190.7 926.7,190.9 927.9,192.3 929.2,190.7 930.4,191.8 931.6,191.3 932.9,191.3 934.1,192.3 935.3,190.6 936.5,192.6 937.8,192.5 939.0,191.9 940.2,190.2 941.5,191.8 942.7,191.8 943.9,192.5 945.1,191.2 946.4,193.3 947.6,193.3 948.8,191.5 950.1,192.2 951.3,191.7 952.5,193.9 953.8,194.3 955.0,194.7 956.2,193.9 957.4,194.3 958.7,194.5 959.9,194.4 961.1,195.6 962.4,194.9 963.6,194.4 964.8,195.0 966.1,193.9 967.3,195.9 968.5,196.0 969.7,195.5 971.0,196.8 972.2,196.8 973.4,195.9 974.7,195.4 975.9,195.7 977.1,196.0 978.3,196.5 979.6,197.1 980.8,198.7 982.0,197.3 983.3,199.3 984.5,199.1 985.7,199.9 987.0,199.1 988.2,198.5 989.4,200.9 990.6,199.8 991.9,199.9 993.1,202.0 994.3,202.1 995.6,201.2 996.8,201.7 998.0,203.8 999.3,202.5 1000.5,203.9 1001.7,202.6 1002.9,204.6 1004.2,203.0 1005.4,204.2 1006.6,203.2 1007.9,204.7 1009.1,205.7 1010.3,203.9 1011.5,204.6 1012.8,206.1 1014.0,205.9 1015.2,205.3 1016.5,206.3 1017.7,206.1 1018.9,207.3 1020.2,206.0 1021.4,207.4 1022.6,207.3 1023.8,207.8 1025.1,207.1 1026.3,208.2 1027.5,208.3 1028.8,207.7 1030.0,206.9 1031.2,209.6 1032.5,209.1 1033.7,208.0 1034.9,209.6 1036.1,208.6 1037.4,209.3 1038.6,210.5 1039.8,209.6 1041.1,209.5 1042.3,209.7 1043.5,209.4 1044.7,210.0 1046.0,210.4 1047.2,210.4 1048.4,210.3 1049.7,211.6 1050.9,211.2 1052.1,212.8 1053.4,213.5 1054.6,212.1 1055.8,213.1 1057.0,213.1 1058.3,212.3 1059.5,212.6 1060.7,214.8 1062.0,214.0 1063.2,215.1 1064.4,213.4 1065.6,215.0 1066.9,216.0 1068.1,216.2 1069.3,214.2 1070.6,215.8 1071.8,215.7 1073.0,216.9 1074.3,215.4 1075.5,216.1 1076.7,217.8 1077.9,217.1 1079.2,217.3 1080.4,218.9 1081.6,217.3 1082.9,216.8 1084.1,217.8 1085.3,217.4 1086.6,217.3 1087.8,218.8 1089.0,219.9 1090.2,219.1 1091.5,219.4 1092.7,218.7 1093.9,219.5 1095.2,220.2 1096.4,219.9 1097.6,220.6 1098.8,220.1 1100.1,219.3 1101.3,220.5 1102.5,220.4 1103.8,219.7 1105.0,221.1 1106.2,221.7 1107.5,220.1 1108.7,221.3 1109.9,222.0 1111.1,221.3 1112.4,221.1 1113.6,221.5 1114.8,222.1 1116.1,222.6 1117.3,222.5 1118.5,221.4 1119.8,223.4 1121.0,223.9 1122.2,221.9 1123.4,222.4 1124.7,222.4 1125.9,224.3 1127.1,224.6 1128.4,222.5 1129.6,223.4 1130.8,223.1 1132.0,223.9 1133.3,225.2 1134.5,223.1 1135.7,223.4 1137.0,224.3 1138.2,224.5 1139.4,225.1 1140.7,224.4 1141.9,223.7 1143.1,224.3 1144.3,226.0 1145.6,225.5 1146.8,223.9 1148.0,225.8 1149.3,224.6 1150.5,225.9 1151.7,223.9 1153.0,226.3 1154.2,224.5 1155.4,225.3 1156.6,225.9 1157.9,225.6 1159.1,224.8 1160.3,224.8 1161.6,225.2 1162.8,224.7 1164.0,225.2 1165.2,225.1 1166.5,226.0 1167.7,225.8 1168.9,226.5 1170.2,225.8 1171.4,225.2 1172.6,226.0 1173.9,227.2 1175.1,226.0 1176.3,226.4 1177.5,227.4 1178.8,226.6 1180.0,227.9 1181.2,228.1 1182.5,226.6 1183.7,227.8 1184.9,226.6 1186.2,226.4 1187.4,227.2 1188.6,227.8 1189.8,228.8 1191.1,226.9 1192.3,228.6 1193.5,228.1 1194.8,227.4 1196.0,229.8 1197.2,229.2 1198.4,227.9 1199.7,230.1 1200.9,228.2 1202.1,228.4 1203.4,229.2 1204.6,230.9 1205.8,228.8 1207.1,231.2 1208.3,230.6 1209.5,229.4 1210.7,230.9 1212.0,230.8 1213.2,231.2 1214.4,231.8 1215.7,231.9 1216.9,232.9 1218.1,230.9 1219.3,232.7 1220.6,231.9 1221.8,233.0 1223.0,233.5 1224.3,233.9 1225.5,232.2 1226.7,232.9 1228.0,234.3 1229.2,234.5 1230.4,233.2 1231.6,234.8 1232.9,233.6 1234.1,233.7 1235.3,234.9 1236.6,234.3 1237.8,234.4 1239.0,234.5 1240.3,234.8 1241.5,234.3 1242.7,234.3 1243.9,236.3 1245.2,236.1 1246.4,236.6 1247.6,237.2 1248.9,236.0 1250.1,236.2 1251.3,236.6 1252.5,236.9 1253.8,238.3 1255.0,237.6 1256.2,237.7 1257.5,238.7 1258.7,237.8 1259.9,237.9 1261.2,239.6 1262.4,240.0 1263.6,239.1 1264.8,240.2 1266.1,238.9 1267.3,240.1 1268.5,240.8 1269.8,240.2 1271.0,240.7 1272.2,241.6 1273.5,241.8 1274.7,240.9 1275.9,242.6 1277.1,241.2 1278.4,243.8 1279.6,242.0 1280.8,242.4 1282.1,242.5 1283.3,244.7 1284.5,243.1 1285.7,244.2 1287.0,245.4 1288.2,245.5 1289.4,243.3 1290.7,244.8 1291.9,245.2 1293.1,245.7 1294.4,244.9 1295.6,245.1 1296.8,244.5 1298.0,244.8 1299.3,246.3 1300.5,245.2 1301.7,245.6 1303.0,246.0 1304.2,245.4 1305.4,245.4 1306.7,247.8 1307.9,246.6 1309.1,246.0 1310.3,247.4 1311.6,245.6 1312.8,246.3 1314.0,248.2 1315.3,248.1 1316.5,247.5 1317.7,246.2 1318.9,246.8 1320.2,246.1 1321.4,246.7 1322.6,246.3 1323.9,246.6 1325.1,248.0 1326.3,246.7 1327.6,246.9 1328.8,248.9 1330.0,247.5 1331.2,247.5 1332.5,246.9 1333.7,248.8 1334.9,248.5 1336.2,248.2 1337.4,248.4 1338.6,247.1 1339.9,247.5 1341.1,248.4 1342.3,249.4 1343.5,249.1 1344.8,248.7 1346.0,248.4 1347.2,247.1 1348.5,249.4 1349.7,247.3 1350.9,247.5 1352.1,249.0 1353.4,249.3 1354.6,249.3 1355.8,248.5 1357.1,247.9 1358.3,247.6 1359.5,249.7 1360.8,250.1 1362.0,248.3 1363.2,250.0 1364.4,248.8 1365.7,248.6 1366.9,249.2 1368.1,248.0 1369.4,249.2 1370.6,248.6 1371.8,250.0 1373.0,249.5 1374.3,250.5 1375.5,250.7 1376.7,249.2 1378.0,249.2 1379.2,251.0 1380.4,249.9 1381.7,248.9 1382.9,248.8 1384.1,251.3 1385.3,250.3 1386.6,249.0 1387.8,250.3 1389.0,250.3 1390.3,250.2 1391.5,251.6 1392.7,251.7 1394.0,249.6 1395.2,249.7 1396.4,250.5 1397.6,251.6 1398.9,251.2 1400.1,251.5 1401.3,251.2 1402.6,250.3 1403.8,251.9 1405.0,249.9 1406.2,251.8 1407.5,250.5 1408.7,251.3 1409.9,252.7 1411.2,251.6 1412.4,250.4 1413.6,251.5 1414.9,252.1 1416.1,250.6 1417.3,251.2 1418.5,250.7 1419.8,252.1 1421.0,251.8 1422.2,252.1 1423.5,251.7 1424.7,252.7 1425.9,251.5 1427.2,253.5 1428.4,253.7 1429.6,252.5 1430.8,252.5 1432.1,253.6 1433.3,252.2" marker-start="url(#mr)" marker-mid="url(#mr)" marker-end="url(#mr)"/>
<polyline points="242.0,980.4 246.6,650.7 243.9,732.3 244.8,744.5 248.5,463.0 244.7,473.5 253.0,374.5 251.5,386.5 253.2,389.5 255.5,309.5 255.5,314.5 258.5,240.5 262.0,238.5 267.0,236.5 256.6,234.3 257.8,234.0 259.0,233.7 260.3,233.3 261.5,233.0 262.7,232.6 264.0,232.3 265.2,232.0 266.4,231.6 267.6,231.3 268.9,231.0 270.1,230.7 271.3,230.4 272.6,230.1 273.8,229.8 275.0,229.5 276.2,229.4 277.5,229.2 278.7,229.1 279.9,228.9 281.2,228.8 282.4,228.6 283.6,228.5 284.9,228.4 286.1,228.2 287.3,228.1 288.5,228.0 289.8,228.0 291.0,228.0 292.2,228.0 293.5,228.0 294.7,228.0 295.9,228.0 297.1,228.0 298.4,228.0 299.6,228.0 300.8,230.9 302.1,231.0 303.3,231.1 304.5,231.2 305.8,231.2 307.0,231.3 308.2,231.4 309.4,231.5 310.7,231.6 311.9,231.7 313.1,231.8 314.4,231.9 315.6,232.0 316.8,232.1 318.1,232.2 319.3,232.3 320.5,232.4 321.7,232.5 323.0,232.8 324.2,233.0 325.4,233.2 326.7,233.5 327.9,233.7 329.1,233.9 330.3,234.2 331.6,234.4 332.8,234.7 334.0,234.9 335.3,235.1 336.5,235.2 337.7,235.4 339.0,235.5 340.2,235.6 341.4,235.8 342.6,242.8 343.9,242.9 345.1,243.1 346.3,243.2 347.6,243.3 348.8,243.5 350.0,243.6 351.3,243.7 352.5,243.8 353.7,244.0 354.9,244.1 356.2,244.2 357.4,244.4 358.6,244.5 359.9,244.6 361.1,244.7 362.3,244.9 363.5,245.0 364.8,245.1 366.0,245.3 367.2,245.4 368.5,245.5 369.7,245.7 370.9,245.8 372.2,245.9 373.4,246.0 374.6,246.2 375.8,246.3 377.1,246.4 378.3,246.4 379.5,246.5 380.8,246.6 382.0,246.7 383.2,246.8 384.5,250.7 385.7,250.7 386.9,250.8 388.1,250.9 389.4,251.0 390.6,251.1 391.8,251.2 393.1,251.3 394.3,251.4 395.5,251.5 396.7,251.5 398.0,251.6 399.2,251.7 400.4,251.8 401.7,251.9 402.9,252.0 404.1,252.1 405.4,252.2 406.6,255.0 407.8,255.1 409.0,255.2 410.3,255.3 411.5,255.3 412.7,255.4 414.0,255.5 415.2,255.6 416.4,255.6 417.7,255.7 418.9,255.8 420.1,255.9 421.3,255.9 422.6,256.0 423.8,256.1 425.0,256.2 426.3,256.2 427.5,256.3 428.7,256.4 429.9,256.5 431.2,256.5 432.4,256.6 433.6,256.7 434.9,256.8 436.1,256.8 437.3,256.9 438.6,257.0 439.8,257.1 441.0,257.1 442.2,257.2 443.5,257.3 444.7,260.7 445.9,260.8 447.2,260.8 448.4,260.9 449.6,261.0 450.8,261.1 452.1,261.1 453.3,261.2 454.5,261.3 455.8,261.3 457.0,261.4 458.2,261.5 459.5,261.5 460.7,261.6 461.9,261.7 463.1,261.8 464.4,261.8 465.6,261.9 466.8,262.0 468.1,262.0 469.3,262.2 470.5,262.5 471.8,262.8 473.0,263.1 474.2,263.5 475.4,263.8 476.7,264.1 477.9,264.5 479.1,270.9 480.4,271.2 481.6,271.5 482.8,271.7 484.0,272.0 485.3,272.2 486.5,272.3 487.7,272.4 489.0,272.5 490.2,272.7 491.4,272.8 492.7,272.9 493.9,273.0 495.1,273.1 496.3,273.2 497.6,273.3 498.8,273.4 500.0,273.6 501.3,273.7 502.5,273.8 503.7,273.9 505.0,278.2 506.2,278.3 507.4,278.5 508.6,278.6 509.9,278.7 511.1,278.8 512.3,278.9 513.6,279.0 514.8,279.1 516.0,279.3 517.2,279.4 518.5,279.5 519.7,279.6 520.9,279.7 522.2,279.8 523.4,279.9 524.6,280.0 525.9,280.2 527.1,280.3 528.3,280.4 529.5,280.5 530.8,280.6 532.0,280.7 533.2,280.8 534.5,280.9 535.7,281.1 536.9,281.2 538.2,281.3 539.4,281.4 540.6,281.4 541.8,281.4 543.1,281.4 544.3,283.0 545.5,283.0 546.8,283.0 548.0,282.9 549.2,282.9 550.4,282.9 551.7,282.8 552.9,282.8 554.1,282.8 555.4,282.7 556.6,282.7 557.8,282.7 559.1,282.7 560.3,282.7 561.5,282.7 562.7,282.6 564.0,282.6 565.2,282.6 566.4,282.6 567.7,282.6 568.9,282.6 570.1,282.5 571.4,282.6 572.6,282.7 573.8,282.8 575.0,282.9 576.3,283.0 577.5,283.1 578.7,283.2 580.0,283.3 581.2,283.4 582.4,283.5 583.6,283.6 584.9,283.7 586.1,283.8 587.3,286.8 588.6,286.9 589.8,287.0 591.0,287.1 592.3,287.2 593.5,287.3 594.7,287.4 595.9,287.5 597.2,287.6 598.4,287.7 599.6,287.8 600.9,287.9 602.1,288.0 603.3,288.1 604.5,288.2 605.8,288.3 607.0,288.4 608.2,288.5 609.5,288.5 610.7,288.7 611.9,288.8 613.2,288.9 614.4,289.0 615.6,289.1 616.8,295.3 618.1,295.4 619.3,295.5 620.5,295.6 621.8,295.8 623.0,295.9 624.2,296.0 625.5,296.2 626.7,296.5 627.9,296.7 629.1,297.0 630.4,297.3 631.6,297.6 632.8,297.8 634.1,298.1 635.3,298.4 636.5,298.7 637.7,298.9 639.0,299.2 640.2,299.4 641.4,299.5 642.7,299.6 643.9,299.6 645.1,299.7 646.4,299.8 647.6,299.8 648.8,299.9 650.0,300.0 651.3,300.0 652.5,300.1 653.7,300.2 655.0,300.2 656.2,300.3 657.4,300.4 658.7,300.4 659.9,304.1 661.1,304.2 662.3,304.2 663.6,304.3 664.8,304.4 666.0,304.4 667.3,304.5 668.5,304.6 669.7,304.6 670.9,304.7 672.2,304.8 673.4,304.8 674.6,304.9 675.9,304.9 677.1,305.0 678.3,306.2 679.6,306.2 680.8,306.3 682.0,306.3 683.2,306.3 684.5,306.4 685.7,306.4 686.9,306.4 688.2,306.5 689.4,306.5 690.6,306.5 691.9,306.6 693.1,306.6 694.3,306.6 695.5,306.7 696.8,308.6 698.0,308.7 699.2,308.8 700.5,308.9 701.7,308.9 702.9,309.0 704.1,309.1 705.4,309.2 706.6,309.2 707.8,309.3 709.1,309.4 710.3,309.5 711.5,309.5 712.8,309.6 714.0,309.7 715.2,309.8 716.4,309.8 717.7,309.9 718.9,310.0 720.1,310.1 721.4,310.1 722.6,310.2 723.8,310.2 725.1,310.3 726.3,310.3 727.5,310.4 728.7,310.4 730.0,310.5 731.2,310.5 732.4,310.6 733.7,310.6 734.9,310.7 736.1,312.8 737.3,312.8 738.6,312.9 739.8,312.9 741.0,313.0 742.3,313.0 743.5,313.1 744.7,313.1 746.0,313.2 747.2,313.2 748.4,313.3 749.6,313.3 750.9,313.4 752.1,313.4 753.3,313.5 754.6,313.5 755.8,313.6 757.0,313.6 758.2,313.7 759.5,313.9 760.7,313.9 761.9,313.9 763.2,313.8 764.4,313.8 765.6,313.8 766.9,313.7 768.1,313.7 769.3,313.6 770.5,313.6 771.8,313.5 773.0,313.5 774.2,313.4 775.5,313.4 776.7,313.4 777.9,313.3 779.2,313.3 780.4,313.3 781.6,313.3 782.8,313.4 784.1,313.4 785.3,313.4 786.5,313.5 787.8,313.5 789.0,313.6 790.2,313.6 791.4,314.7 792.7,314.7 793.9,314.7 795.1,314.8 796.4,314.8 797.6,314.9 798.8,314.9 800.1,315.0 801.3,315.0 802.5,315.1 803.7,315.1 805.0,315.2 806.2,315.2 807.4,315.3 808.7,315.3 809.9,315.4 811.1,315.4 812.4,315.5 813.6,315.5 814.8,315.6 816.0,315.6 817.3,315.7 818.5,315.7 819.7,315.7 821.0,315.8 822.2,317.3 823.4,317.4 824.6,317.4 825.9,317.5 827.1,317.6 828.3,317.6 829.6,317.7 830.8,317.7 832.0,317.8 833.3,317.9 834.5,317.9 835.7,318.0 836.9,318.0 838.2,318.1 839.4,318.2 840.6,322.0 841.9,322.1 843.1,322.2 844.3,322.2 845.6,322.3 846.8,322.5 848.0,322.7 849.2,322.9 850.5,323.2 851.7,323.4 852.9,323.6 854.2,323.9 855.4,324.1 856.6,324.4 857.8,324.6 859.1,324.8 860.3,325.0 861.5,325.1 862.8,325.2 864.0,325.3 865.2,325.3 866.5,325.4 867.7,325.5 868.9,325.5 870.1,325.6 871.4,325.7 872.6,325.8 873.8,325.8 875.1,325.9 876.3,326.0 877.5,326.0 878.8,330.1 880.0,330.2 881.2,330.3 882.4,330.3 883.7,330.4 884.9,330.5 886.1,330.6 887.4,330.6 888.6,330.7 889.8,330.8 891.0,330.8 892.3,330.9 893.5,331.0 894.7,331.1 896.0,331.1 897.2,331.2 898.4,331.3 899.7,331.3 900.9,331.4 902.1,331.5 903.3,331.6 904.6,331.7 905.8,331.8 907.0,331.9 908.3,332.0 909.5,332.1 910.7,332.2 911.9,332.3 913.2,332.4 914.4,332.5 915.6,332.5 916.9,335.4 918.1,335.5 919.3,335.6 920.6,335.7 921.8,335.8 923.0,335.9 924.2,336.0 925.5,336.1 926.7,336.2 927.9,336.3 929.2,336.4 930.4,336.5 931.6,336.6 932.9,336.7 934.1,336.7 935.3,338.7 936.5,338.8 937.8,338.9 939.0,339.0 940.2,339.1 941.5,339.2 942.7,339.3 943.9,339.3 945.1,339.4 946.4,339.4 947.6,339.5 948.8,339.5 950.1,339.6 951.3,339.6 952.5,339.7 953.8,339.7 955.0,339.8 956.2,339.9 957.4,343.3 958.7,343.4 959.9,343.4 961.1,343.5 962.4,343.5 963.6,343.6 964.8,343.6 966.1,343.7 967.3,343.7 968.5,343.8 969.7,343.9 971.0,344.0 972.2,344.2 973.4,344.4 974.7,344.6 975.9,344.9 977.1,345.1 978.3,345.3 979.6,345.5 980.8,345.7 982.0,345.9 983.3,346.1 984.5,346.3 985.7,346.5 987.0,346.7 988.2,346.9 989.4,347.1 990.6,347.3 991.9,347.5 993.1,347.6 994.3,347.8 995.6,348.0 996.8,355.2 998.0,355.4 999.3,355.6 1000.5,355.7 1001.7,355.9 1002.9,356.1 1004.2,356.2 1005.4,356.4 1006.6,356.6 1007.9,356.7 1009.1,356.9 1010.3,357.1 1011.5,357.1 1012.8,357.2 1014.0,357.3 1015.2,357.4 1016.5,357.5 1017.7,357.6 1018.9,357.7 1020.2,357.8 1021.4,357.8 1022.6,357.9 1023.8,358.0 1025.1,358.1 1026.3,358.2 1027.5,358.3 1028.8,358.4 1030.0,358.4 1031.2,358.5 1032.5,358.6 1033.7,358.7 1034.9,358.8 1036.1,358.9 1037.4,359.0 1038.6,359.0 1039.8,363.1 1041.1,363.2 1042.3,363.2 1043.5,363.3 1044.7,363.4 1046.0,363.4 1047.2,363.5 1048.4,363.6 1049.7,363.7 1050.9,363.7 1052.1,363.8 1053.4,363.9 1054.6,363.9 1055.8,364.0 1057.0,364.1 1058.3,364.2 1059.5,364.2 1060.7,364.3 1062.0,364.4 1063.2,364.4 1064.4,364.5 1065.6,364.6 1066.9,364.7 1068.1,364.7 1069.3,364.8 1070.6,364.9 1071.8,364.9 1073.0,365.0 1074.3,365.1 1075.5,365.2 1076.7,365.2 1077.9,365.3 1079.2,365.4 1080.4,365.4 1081.6,368.0 1082.9,368.1 1084.1,368.1 1085.3,368.2 1086.6,368.2 1087.8,368.3 1089.0,368.3 1090.2,368.4 1091.5,368.4 1092.7,368.5 1093.9,368.5 1095.2,368.6 1096.4,368.6 1097.6,368.7 1098.8,368.8 1100.1,368.8 1101.3,368.9 1102.5,368.9 1103.8,369.0 1105.0,369.0 1106.2,369.1 1107.5,369.1 1108.7,369.2 1109.9,369.2 1111.1,369.4 1112.4,373.9 1113.6,374.1 1114.8,374.3 1116.1,374.6 1117.3,374.8 1118.5,375.0 1119.8,375.2 1121.0,375.5 1122.2,375.7 1123.4,375.9 1124.7,376.2 1125.9,376.4 1127.1,376.6 1128.4,376.8 1129.6,376.8 1130.8,376.9 1132.0,376.9 1133.3,377.0 1134.5,377.0 1135.7,377.1 1137.0,377.1 1138.2,379.7 1139.4,379.8 1140.7,379.8 1141.9,379.9 1143.1,379.9 1144.3,380.0 1145.6,380.0 1146.8,380.1 1148.0,380.1 1149.3,380.2 1150.5,380.2 1151.7,380.3 1153.0,380.3 1154.2,380.3 1155.4,380.4 1156.6,380.4 1157.9,380.5 1159.1,380.5 1160.3,380.6 1161.6,380.7 1162.8,380.8 1164.0,380.9 1165.2,381.0 1166.5,383.0 1167.7,383.1 1168.9,383.2 1170.2,383.3 1171.4,383.4 1172.6,383.5 1173.9,383.6 1175.1,383.7 1176.3,383.8 1177.5,383.8 1178.8,383.9 1180.0,384.0 1181.2,384.1 1182.5,384.2 1183.7,384.3 1184.9,384.4 1186.2,386.8 1187.4,386.8 1188.6,386.9 1189.8,387.0 1191.1,387.1 1192.3,387.2 1193.5,387.2 1194.8,387.3 1196.0,387.4 1197.2,387.5 1198.4,387.5 1199.7,387.6 1200.9,387.7 1202.1,387.8 1203.4,387.8 1204.6,387.9 1205.8,388.0 1207.1,388.1 1208.3,388.2 1209.5,388.2 1210.7,388.3 1212.0,388.4 1213.2,388.5 1214.4,388.5 1215.7,390.8 1216.9,390.8 1218.1,390.9 1219.3,391.0 1220.6,391.1 1221.8,391.1 1223.0,391.2 1224.3,391.3 1225.5,391.4 1226.7,391.4 1228.0,391.5 1229.2,391.6 1230.4,391.7 1231.6,391.7 1232.9,391.8 1234.1,391.9 1235.3,392.0 1236.6,394.0 1237.8,394.1 1239.0,394.2 1240.3,394.3 1241.5,394.4 1242.7,394.5 1243.9,394.6 1245.2,394.7 1246.4,394.8 1247.6,394.9 1248.9,395.0 1250.1,395.1 1251.3,395.2 1252.5,395.3 1253.8,395.5 1255.0,395.6 1256.2,398.5 1257.5,398.6 1258.7,398.7 1259.9,398.8 1261.2,398.9 1262.4,399.0 1263.6,399.1 1264.8,399.2 1266.1,399.3 1267.3,399.5 1268.5,399.6 1269.8,399.7 1271.0,399.8 1272.2,399.9 1273.5,400.0 1274.7,400.1 1275.9,400.2 1277.1,400.3 1278.4,400.4 1279.6,400.5 1280.8,400.6 1282.1,402.8 1283.3,402.9 1284.5,402.9 1285.7,403.0 1287.0,403.1 1288.2,403.1 1289.4,403.2 1290.7,403.2 1291.9,403.3 1293.1,403.4 1294.4,403.4 1295.6,403.5 1296.8,403.6 1298.0,405.0 1299.3,405.1 1300.5,405.2 1301.7,405.2 1303.0,405.3 1304.2,405.3 1305.4,405.4 1306.7,405.4 1307.9,405.4 1309.1,405.5 1310.3,405.5 1311.6,405.6 1312.8,405.6 1314.0,405.7 1315.3,405.7 1316.5,405.8 1317.7,405.8 1318.9,405.9 1320.2,405.9 1321.4,406.0 1322.6,406.0 1323.9,406.1 1325.1,406.1 1326.3,406.2 1327.6,408.0 1328.8,408.0 1330.0,408.1 1331.2,408.1 1332.5,408.1 1333.7,408.2 1334.9,408.2 1336.2,408.3 1337.4,408.3 1338.6,408.4 1339.9,408.4 1341.1,408.5 1342.3,408.5 1343.5,408.6 1344.8,408.6 1346.0,408.7 1347.2,408.7 1348.5,408.8 1349.7,408.8 1350.9,408.9 1352.1,408.9 1353.4,408.9 1354.6,409.0 1355.8,409.0 1357.1,409.1 1358.3,409.1 1359.5,409.2 1360.8,409.3 1362.0,409.5 1363.2,414.0 1364.4,414.2 1365.7,414.4 1366.9,414.6 1368.1,414.8 1369.4,415.0 1370.6,415.1 1371.8,415.3 1373.0,415.5 1374.3,415.7 1375.5,415.9 1376.7,416.1 1378.0,416.3 1379.2,416.4 1380.4,416.5 1381.7,416.5 1382.9,416.6 1384.1,416.7 1385.3,416.7 1386.6,416.8 1387.8,416.9 1389.0,417.0 1390.3,417.0 1391.5,417.1 1392.7,417.2 1394.0,417.2 1395.2,417.3 1396.4,417.4 1397.6,417.4 1398.9,420.9 1400.1,420.9 1401.3,421.0 1402.6,421.1 1403.8,421.1 1405.0,421.2 1406.2,421.3 1407.5,421.4 1408.7,421.4 1409.9,421.5 1411.2,421.6 1412.4,421.6 1413.6,421.7 1414.9,421.8 1416.1,421.8 1417.3,421.9 1418.5,422.0 1419.8,422.1 1421.0,422.1 1422.2,422.2 1423.5,422.3 1424.7,422.3 1425.9,422.4 1427.2,422.5 1428.4,422.5 1429.6,422.7 1430.8,423.0 1432.1,423.4 1433.3,423.7" marker-start="url(#mp)" marker-mid="url(#mp)" marker-end="url(#mp)"/>
</g>
<path d="M203.70,4.35V1002.7M449.62,4.35V1002.7M695.54,4.35V1002.7M941.46,4.35V1002.7M1187.38,4.35V1002.7M1433.30,4.35V1002.7M156.5,68.50H1495.1M156.5,196.42H1495.1M156.5,324.34H1495.1M156.5,452.26H1495.1M156.5,580.18H1495.1M156.5,708.10H1495.1M156.5,836.02H1495.1M156.5,963.94H1495.1" stroke="#a9a9a9" stroke-width="2.7" fill="none"/>
<g>
<rect x="1104.3" y="689.6" width="370.8" height="293.4" rx="7.5" ry="7.5" fill="#fff" fill-opacity="0.8" stroke="#cccccc" stroke-opacity="0.8" stroke-width="3.75"/>
<path transform="translate(1156.6,724.7)" d="M-4.60,-9.20L0.00,-4.60L4.60,-9.20L9.20,-4.60L4.60,0.00L9.20,4.60L4.60,9.20L0.00,4.60L-4.60,9.20L-9.20,4.60L-4.60,0.00L-9.20,-4.60Z" fill="#4676b1" stroke="#4676b1" stroke-width="3" stroke-linejoin="round"/>
<circle cx="1156.7" cy="781.4" r="9.5" fill="#e47f23"/>
<path transform="translate(1156.6,837.3)" d="M0,-9.15L9.15,9.15L-9.15,9.15Z" fill="#62a03b" stroke="#62a03b" stroke-width="3" stroke-linejoin="round"/>
<path transform="translate(1156.6,894.1)" d="M0.00,-9.10L2.04,-2.81L8.65,-2.81L3.31,1.07L5.35,7.36L0.00,3.48L-5.35,7.36L-3.31,1.07L-8.65,-2.81L-2.04,-2.81Z" fill="#b8292e" stroke="#b8292e" stroke-width="3" stroke-linejoin="round"/>
<path transform="translate(1156.6,950.2)" d="M-2.7,-8.0H2.7V-2.7H8.0V2.7H2.7V8.0H-2.7V2.7H-8.0V-2.7H-2.7Z" fill="#8965b9"/>
<text x="1222.6" y="733.3" font-size="40" textLength="75.6" lengthAdjust="spacingAndGlyphs">SAC</text>
<text x="1222.6" y="789.3" font-size="40" textLength="74.7" lengthAdjust="spacingAndGlyphs">PPO</text>
<text x="1222.6" y="846.5" font-size="40" textLength="238.3" lengthAdjust="spacingAndGlyphs">SAC Stacked</text>
<text x="1222.6" y="903.3" font-size="40" textLength="237.4" lengthAdjust="spacingAndGlyphs">PPO Stacked</text>
<text x="1222.6" y="959.9" font-size="40" textLength="62.6" lengthAdjust="spacingAndGlyphs">PID</text>
</g>
<rect x="156.5" y="4.35" width="1338.6" height="998.35" fill="none" stroke="#000" stroke-width="3"/>
<path d="M203.70,1002.7v13.5M449.62,1002.7v13.5M695.54,1002.7v13.5M941.46,1002.7v13.5M1187.38,1002.7v13.5M1433.30,1002.7v13.5M156.5,68.50h-14.6M156.5,196.42h-14.6M156.5,324.34h-14.6M156.5,452.26h-14.6M156.5,580.18h-14.6M156.5,708.10h-14.6M156.5,836.02h-14.6M156.5,963.94h-14.6" stroke="#000" stroke-width="2.8" fill="none"/>
<text x="203.7" y="1057.5" font-size="40" text-anchor="middle" textLength="23.3" lengthAdjust="spacingAndGlyphs">0</text>
<text x="449.6" y="1057.5" font-size="40" text-anchor="middle" textLength="69.9" lengthAdjust="spacingAndGlyphs">200</text>
<text x="695.5" y="1057.5" font-size="40" text-anchor="middle" textLength="69.9" lengthAdjust="spacingAndGlyphs">400</text>
<text x="941.5" y="1057.5" font-size="40" text-anchor="middle" textLength="69.9" lengthAdjust="spacingAndGlyphs">600</text>
<text x="1187.4" y="1057.5" font-size="40" text-anchor="middle" textLength="69.9" lengthAdjust="spacingAndGlyphs">800</text>
<text x="1433.3" y="1057.5" font-size="40" text-anchor="middle" textLength="93.2" lengthAdjust="spacingAndGlyphs">1000</text>
<text x="128.7" y="82.6" font-size="40" text-anchor="end" textLength="23.3" lengthAdjust="spacingAndGlyphs">4</text>
<text x="128.7" y="210.5" font-size="40" text-anchor="end" textLength="23.3" lengthAdjust="spacingAndGlyphs">2</text>
<text x="128.7" y="338.4" font-size="40" text-anchor="end" textLength="23.3" lengthAdjust="spacingAndGlyphs">0</text>
<text x="128.7" y="466.4" font-size="40" text-anchor="end" textLength="52.3" lengthAdjust="spacingAndGlyphs">−2</text>
<text x="128.7" y="594.3" font-size="40" text-anchor="end" textLength="52.3" lengthAdjust="spacingAndGlyphs">−4</text>
<text x="128.7" y="722.2" font-size="40" text-anchor="end" textLength="52.3" lengthAdjust="spacingAndGlyphs">−6</text>
<text x="128.7" y="850.1" font-size="40" text-anchor="end" textLength="52.3" lengthAdjust="spacingAndGlyphs">−8</text>
<text x="128.7" y="978.0" font-size="40" text-anchor="end" textLength="75.6" lengthAdjust="spacingAndGlyphs">−10</text>
<text x="825.6" y="1110" font-size="40" text-anchor="middle" textLength="181.1" lengthAdjust="spacingAndGlyphs">Mass [kg]</text>
<text transform="translate(30.7,507.1) rotate(-90)" font-size="40" text-anchor="middle" textLength="122.6" lengthAdjust="spacingAndGlyphs">Return</text>
</svg></body></html>
